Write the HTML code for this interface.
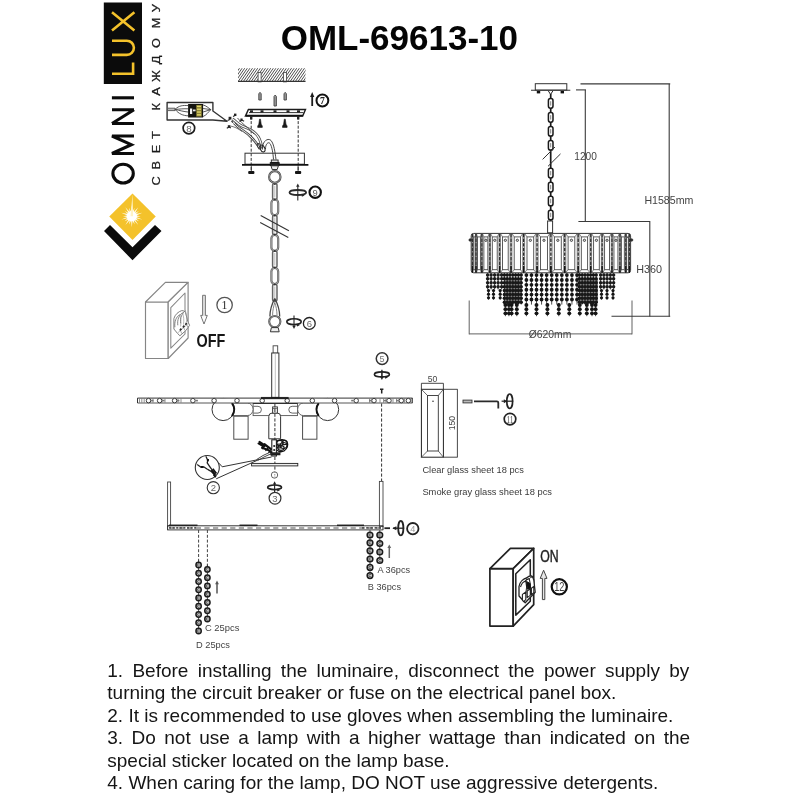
<!DOCTYPE html>
<html><head><meta charset="utf-8">
<style>
html,body{margin:0;padding:0;background:#fff;}
body{width:800px;height:800px;position:relative;overflow:hidden;font-family:"Liberation Sans",sans-serif;color:#000;}
#title{position:absolute;left:280.7px;top:17.6px;font-weight:bold;font-size:35px;line-height:40px;white-space:nowrap;color:#050505;}
#instr{position:absolute;left:107.3px;top:659.5px;width:600px;font-size:19px;line-height:22.6px;color:#151515;}
#instr div{white-space:nowrap;height:22.6px;}
svg{position:absolute;left:0;top:0;filter:blur(0.4px);}
#title,#instr{filter:blur(0.35px);}
svg text{font-family:"Liberation Sans",sans-serif;}
</style></head><body>
<div id="title">OML-69613-10</div>
<div id="instr">
<div style="word-spacing:3.99px">1. Before installing the luminaire, disconnect the power supply by</div>
<div>turning the circuit breaker or fuse on the electrical panel box.</div>
<div>2. It is recommended to use gloves when assembling the luminaire.</div>
<div style="word-spacing:3.15px">3. Do not use a lamp with a higher wattage than indicated on the</div>
<div>special sticker located on the lamp base.</div>
<div>4. When caring for the lamp, DO NOT use aggressive detergents.</div>
</div>
<svg width="800" height="800" viewBox="0 0 800 800" fill="none" stroke-linecap="butt">
<g id="logo">
<rect x="103.80" y="2.50" width="38.20" height="81.50" fill="#0b0b0b" stroke="none" stroke-width="0" />
<path d="M112,73.7 H133.1 V62.5" fill="none" stroke="#f4c22b" stroke-width="2.6" stroke-linejoin="miter"/>
<path d="M112,54.9 H126.8 A7.1,7.1 0 0 0 126.8,40.7 H112" fill="none" stroke="#f4c22b" stroke-width="2.6" />
<path d="M112,30.4 L134.4,12.2 M112,12.2 L134.4,30.4" fill="none" stroke="#f4c22b" stroke-width="2.6" />
<line x1="111.90" y1="97.80" x2="134.00" y2="97.80" stroke="#0b0b0b" stroke-width="3.1" />
<path d="M112,123.5 H134 M112,123.5 L134,109.7 M112,109.7 H134" fill="none" stroke="#0b0b0b" stroke-width="3.1" stroke-linejoin="bevel"/>
<path d="M134,153.5 H112 L131.3,144.7 L112,136 H134" fill="none" stroke="#0b0b0b" stroke-width="3.1" stroke-linejoin="miter"/>
<ellipse cx="123.10" cy="173.60" rx="10.20" ry="9.40" fill="none" stroke="#0b0b0b" stroke-width="3.1" />
<polygon points="132.50,193.50 155.75,216.50 132.50,240.00 109.25,216.50" fill="#f4c22b" stroke="none" stroke-width="0" />
<polygon points="131.80,205.20 132.52,211.66 134.52,207.83 133.89,212.10 138.27,207.30 135.05,212.95 138.92,211.03 135.90,214.11 142.26,212.80 136.34,215.48 140.60,216.20 136.34,216.92 142.26,219.60 135.90,218.29 138.92,221.37 135.05,219.45 138.27,225.10 133.89,220.30 134.52,224.57 132.52,220.74 131.80,227.20 131.08,220.74 129.08,224.57 129.71,220.30 125.33,225.10 128.55,219.45 124.68,221.37 127.70,218.29 121.34,219.60 127.26,216.92 123.00,216.20 127.26,215.48 121.34,212.80 127.70,214.11 124.68,211.03 128.55,212.95 125.33,207.30 129.71,212.10 129.08,207.83 131.08,211.66" fill="#fffbe8" stroke="none" stroke-width="0" />
<circle cx="131.80" cy="216.20" r="5.00" fill="#fff" stroke="none" stroke-width="0" />
<polygon points="130.50,216.20 132.50,194.20 133.10,216.20" fill="#fff3c4" stroke="none" stroke-width="0" />
<polygon points="104.00,231.00 110.00,225.00 132.50,247.30 155.00,225.00 161.50,231.00 132.50,260.20" fill="#0b0b0b" stroke="none" stroke-width="0" />
<text transform="translate(160.1,181) rotate(-90) scale(1.13,1)" font-size="11.3" fill="#1a1a1a" stroke="#1a1a1a" stroke-width="0.25" text-anchor="middle">С</text>
<text transform="translate(160.1,165.3) rotate(-90) scale(1.13,1)" font-size="11.3" fill="#1a1a1a" stroke="#1a1a1a" stroke-width="0.25" text-anchor="middle">В</text>
<text transform="translate(160.1,149) rotate(-90) scale(1.13,1)" font-size="11.3" fill="#1a1a1a" stroke="#1a1a1a" stroke-width="0.25" text-anchor="middle">Е</text>
<text transform="translate(160.1,135) rotate(-90) scale(1.13,1)" font-size="11.3" fill="#1a1a1a" stroke="#1a1a1a" stroke-width="0.25" text-anchor="middle">Т</text>
<text transform="translate(160.1,106.8) rotate(-90) scale(1.13,1)" font-size="11.3" fill="#1a1a1a" stroke="#1a1a1a" stroke-width="0.25" text-anchor="middle">К</text>
<text transform="translate(160.1,91.5) rotate(-90) scale(1.13,1)" font-size="11.3" fill="#1a1a1a" stroke="#1a1a1a" stroke-width="0.25" text-anchor="middle">А</text>
<text transform="translate(160.1,76) rotate(-90) scale(1.13,1)" font-size="11.3" fill="#1a1a1a" stroke="#1a1a1a" stroke-width="0.25" text-anchor="middle">Ж</text>
<text transform="translate(160.1,60) rotate(-90) scale(1.13,1)" font-size="11.3" fill="#1a1a1a" stroke="#1a1a1a" stroke-width="0.25" text-anchor="middle">Д</text>
<text transform="translate(160.1,43) rotate(-90) scale(1.13,1)" font-size="11.3" fill="#1a1a1a" stroke="#1a1a1a" stroke-width="0.25" text-anchor="middle">О</text>
<text transform="translate(160.1,23) rotate(-90) scale(1.13,1)" font-size="11.3" fill="#1a1a1a" stroke="#1a1a1a" stroke-width="0.25" text-anchor="middle">М</text>
<text transform="translate(160.1,8.2) rotate(-90) scale(1.13,1)" font-size="11.3" fill="#1a1a1a" stroke="#1a1a1a" stroke-width="0.25" text-anchor="middle">У</text>
</g>
<g id="mount">
<defs><clipPath id="hc"><rect x="238" y="68.2" width="67.5" height="13.1"/></clipPath></defs>
<g clip-path="url(#hc)">
<line x1="230.00" y1="82.00" x2="240.00" y2="67.50" stroke="#2e2e2e" stroke-width="0.85" />
<line x1="232.60" y1="82.00" x2="242.60" y2="67.50" stroke="#2e2e2e" stroke-width="0.85" />
<line x1="235.20" y1="82.00" x2="245.20" y2="67.50" stroke="#2e2e2e" stroke-width="0.85" />
<line x1="237.80" y1="82.00" x2="247.80" y2="67.50" stroke="#2e2e2e" stroke-width="0.85" />
<line x1="240.40" y1="82.00" x2="250.40" y2="67.50" stroke="#2e2e2e" stroke-width="0.85" />
<line x1="243.00" y1="82.00" x2="253.00" y2="67.50" stroke="#2e2e2e" stroke-width="0.85" />
<line x1="245.60" y1="82.00" x2="255.60" y2="67.50" stroke="#2e2e2e" stroke-width="0.85" />
<line x1="248.20" y1="82.00" x2="258.20" y2="67.50" stroke="#2e2e2e" stroke-width="0.85" />
<line x1="250.80" y1="82.00" x2="260.80" y2="67.50" stroke="#2e2e2e" stroke-width="0.85" />
<line x1="253.40" y1="82.00" x2="263.40" y2="67.50" stroke="#2e2e2e" stroke-width="0.85" />
<line x1="256.00" y1="82.00" x2="266.00" y2="67.50" stroke="#2e2e2e" stroke-width="0.85" />
<line x1="258.60" y1="82.00" x2="268.60" y2="67.50" stroke="#2e2e2e" stroke-width="0.85" />
<line x1="261.20" y1="82.00" x2="271.20" y2="67.50" stroke="#2e2e2e" stroke-width="0.85" />
<line x1="263.80" y1="82.00" x2="273.80" y2="67.50" stroke="#2e2e2e" stroke-width="0.85" />
<line x1="266.40" y1="82.00" x2="276.40" y2="67.50" stroke="#2e2e2e" stroke-width="0.85" />
<line x1="269.00" y1="82.00" x2="279.00" y2="67.50" stroke="#2e2e2e" stroke-width="0.85" />
<line x1="271.60" y1="82.00" x2="281.60" y2="67.50" stroke="#2e2e2e" stroke-width="0.85" />
<line x1="274.20" y1="82.00" x2="284.20" y2="67.50" stroke="#2e2e2e" stroke-width="0.85" />
<line x1="276.80" y1="82.00" x2="286.80" y2="67.50" stroke="#2e2e2e" stroke-width="0.85" />
<line x1="279.40" y1="82.00" x2="289.40" y2="67.50" stroke="#2e2e2e" stroke-width="0.85" />
<line x1="282.00" y1="82.00" x2="292.00" y2="67.50" stroke="#2e2e2e" stroke-width="0.85" />
<line x1="284.60" y1="82.00" x2="294.60" y2="67.50" stroke="#2e2e2e" stroke-width="0.85" />
<line x1="287.20" y1="82.00" x2="297.20" y2="67.50" stroke="#2e2e2e" stroke-width="0.85" />
<line x1="289.80" y1="82.00" x2="299.80" y2="67.50" stroke="#2e2e2e" stroke-width="0.85" />
<line x1="292.40" y1="82.00" x2="302.40" y2="67.50" stroke="#2e2e2e" stroke-width="0.85" />
<line x1="295.00" y1="82.00" x2="305.00" y2="67.50" stroke="#2e2e2e" stroke-width="0.85" />
<line x1="297.60" y1="82.00" x2="307.60" y2="67.50" stroke="#2e2e2e" stroke-width="0.85" />
<line x1="300.20" y1="82.00" x2="310.20" y2="67.50" stroke="#2e2e2e" stroke-width="0.85" />
<line x1="302.80" y1="82.00" x2="312.80" y2="67.50" stroke="#2e2e2e" stroke-width="0.85" />
<line x1="305.40" y1="82.00" x2="315.40" y2="67.50" stroke="#2e2e2e" stroke-width="0.85" />
<line x1="308.00" y1="82.00" x2="318.00" y2="67.50" stroke="#2e2e2e" stroke-width="0.85" />
<line x1="310.60" y1="82.00" x2="320.60" y2="67.50" stroke="#2e2e2e" stroke-width="0.85" />
<line x1="313.20" y1="82.00" x2="323.20" y2="67.50" stroke="#2e2e2e" stroke-width="0.85" />
<line x1="315.80" y1="82.00" x2="325.80" y2="67.50" stroke="#2e2e2e" stroke-width="0.85" />
<line x1="318.40" y1="82.00" x2="328.40" y2="67.50" stroke="#2e2e2e" stroke-width="0.85" />
</g>
<rect x="258.10" y="72.40" width="3.00" height="9.50" fill="#fff" stroke="#444" stroke-width="0.8" />
<rect x="283.40" y="72.40" width="3.00" height="9.50" fill="#fff" stroke="#444" stroke-width="0.8" />
<line x1="238.00" y1="81.40" x2="305.50" y2="81.40" stroke="#333" stroke-width="1.1" />
<path d="M258.8,100 V93.8 L260,92.3 L261.2,93.8 V100 Z" fill="#999" stroke="#444" stroke-width="0.9" />
<path d="M274.0,106 V96.5 L275.2,95 L276.4,96.5 V106 Z" fill="#999" stroke="#444" stroke-width="0.9" />
<path d="M284.0,100 V93.8 L285.2,92.3 L286.4,93.8 V100 Z" fill="#999" stroke="#444" stroke-width="0.9" />
<line x1="312.20" y1="106.00" x2="312.20" y2="95.00" stroke="#1c1c1c" stroke-width="1.8" />
<polygon points="312.20,92.00 310.10,97.00 314.30,97.00" fill="#1c1c1c" stroke="none" stroke-width="0" />
<circle cx="322.40" cy="100.50" r="5.90" fill="#fff" stroke="#111" stroke-width="2.0" />
<text x="322.5" y="103.8" font-size="9.6" font-weight="bold" fill="#222" text-anchor="middle" style="font-family:'Liberation Serif',serif">7</text>
<polygon points="248.40,109.50 305.50,109.50 302.70,116.10 245.40,116.10" fill="#fff" stroke="#1c1c1c" stroke-width="1.4" />
<line x1="249.00" y1="112.60" x2="303.50" y2="112.60" stroke="#333" stroke-width="1" />
<rect x="250.00" y="110.30" width="3.00" height="2.20" fill="#222" stroke="none" stroke-width="0" />
<rect x="260.50" y="110.30" width="3.00" height="2.20" fill="#222" stroke="none" stroke-width="0" />
<rect x="273.50" y="110.30" width="3.00" height="2.20" fill="#222" stroke="none" stroke-width="0" />
<rect x="286.50" y="110.30" width="3.00" height="2.20" fill="#222" stroke="none" stroke-width="0" />
<rect x="297.00" y="110.30" width="3.00" height="2.20" fill="#222" stroke="none" stroke-width="0" />
<line x1="246.00" y1="115.60" x2="302.90" y2="115.60" stroke="#111" stroke-width="1.6" />
<path d="M259.5,119.2 H260.5 L261.2,124.2 L262.3,126 V127.4 H257.7 V126 L258.8,124.2 Z" fill="#1a1a1a" stroke="#1a1a1a" stroke-width="0.6" />
<path d="M284.3,119.2 H285.3 L286.0,124.2 L287.1,126 V127.4 H282.5 V126 L283.6,124.2 Z" fill="#1a1a1a" stroke="#1a1a1a" stroke-width="0.6" />
<line x1="251.20" y1="116.50" x2="251.20" y2="171.00" stroke="#333" stroke-width="1" stroke-dasharray="3 1.6"/>
<line x1="298.20" y1="116.50" x2="298.20" y2="171.00" stroke="#333" stroke-width="1" stroke-dasharray="3 1.6"/>
<rect x="250.00" y="116.50" width="2.40" height="3.00" fill="#222" stroke="none" stroke-width="0" />
<rect x="297.00" y="116.50" width="2.40" height="3.00" fill="#222" stroke="none" stroke-width="0" />
<rect x="245.00" y="153.20" width="59.40" height="11.00" fill="none" stroke="#333" stroke-width="1" />
<line x1="242.00" y1="164.90" x2="308.40" y2="164.90" stroke="#111" stroke-width="1.6" />
<line x1="251.30" y1="165.50" x2="251.30" y2="171.00" stroke="#333" stroke-width="0.9" />
<rect x="248.20" y="171.10" width="6.20" height="2.80" fill="#151515" stroke="none" stroke-width="0" rx="0.9"/>
<line x1="298.10" y1="165.50" x2="298.10" y2="171.00" stroke="#333" stroke-width="0.9" />
<rect x="295.00" y="171.10" width="6.20" height="2.80" fill="#151515" stroke="none" stroke-width="0" rx="0.9"/>
<path d="M232.5,119 C236,121.5 238,124 241,125.5 C245,127.5 248,128 251,130 C255,132.5 258,135.5 259.5,139 C261,142.5 261.5,145.5 262,148" fill="none" stroke="#4a4a4a" stroke-width="2.8" />
<path d="M232.5,119 C236,121.5 238,124 241,125.5 C245,127.5 248,128 251,130 C255,132.5 258,135.5 259.5,139 C261,142.5 261.5,145.5 262,148" fill="none" stroke="#fff" stroke-width="1.0999999999999999" />
<path d="M234,123 C237,126.5 240,128.5 243,130.5 C246,132.5 248.5,134.5 251,137 C254,140 256.5,143 258,145.5 C259,147 259.5,148 260,149" fill="none" stroke="#4a4a4a" stroke-width="2.6" />
<path d="M234,123 C237,126.5 240,128.5 243,130.5 C246,132.5 248.5,134.5 251,137 C254,140 256.5,143 258,145.5 C259,147 259.5,148 260,149" fill="none" stroke="#fff" stroke-width="0.9000000000000001" />
<path d="M237.5,118 C240,121 243,124 246,126.5 C249,129 252,131 254,134" fill="none" stroke="#444" stroke-width="0.9" />
<path d="M230,126 C234,126.5 238,128.5 242,131.5" fill="none" stroke="#555" stroke-width="0.8" />
<path d="M262.5,149.5 C262,141 268,137.5 271,140.5 C274,144 275,152 276,159.5" fill="none" stroke="#333" stroke-width="0.9" />
<path d="M265.5,149 C265.5,143.5 268.5,141.5 270,143.5 C272,146.5 273,153 273.5,159.5" fill="none" stroke="#333" stroke-width="0.9" />
<ellipse cx="262.50" cy="148.50" rx="2.20" ry="3.60" fill="none" stroke="#222" stroke-width="1.1" transform="rotate(-25 262.5 148.5)"/>
<ellipse cx="259.20" cy="146.20" rx="1.60" ry="3.00" fill="none" stroke="#333" stroke-width="0.9" transform="rotate(-25 259.2 146.2)"/>
<rect x="228.60" y="116.80" width="2.80" height="2.80" fill="#222" stroke="none" stroke-width="0" />
<rect x="234.00" y="113.60" width="2.40" height="2.40" fill="#222" stroke="none" stroke-width="0" />
<rect x="227.80" y="125.20" width="2.40" height="2.40" fill="#222" stroke="none" stroke-width="0" />
<rect x="240.40" y="118.50" width="2.20" height="2.20" fill="#222" stroke="none" stroke-width="0" />
<path d="M227.5,120.5 l2.5,-1 M233,116.5 l2.5,-1.2 M226.8,128.2 l2.4,-1.2 l1.6,1 M239.5,121.5 l2.4,-1.4 l2.2,1.2 M231.5,121 l1.5,1.6" fill="none" stroke="#222" stroke-width="1.1" />
<path d="M167.1,102.5 H212.9 V111 L227,121.3 L212.9,120 H167.1 Z" fill="none" stroke="#333" stroke-width="1.4" stroke-linejoin="round"/>
<path d="M168,108.2 H175 V110.6 H168" fill="#bbb" stroke="#555" stroke-width="0.9" />
<path d="M175,109.4 C179,105.5 183,105.2 188,105.6 M175,109.4 C180,109 184,108.6 188,108.8 M175,109.4 C180,110.6 184,111.6 188,112 M175,109.4 C179,114 183,115.6 188,115.8" fill="none" stroke="#444" stroke-width="0.9" />
<rect x="188.10" y="104.00" width="15.00" height="13.50" fill="#141410" stroke="none" stroke-width="0" />
<rect x="190.00" y="108.50" width="2.20" height="5.50" fill="#f2f2f2" stroke="none" stroke-width="0" />
<rect x="193.00" y="109.50" width="2.60" height="1.80" fill="#e8e8e8" stroke="none" stroke-width="0" />
<rect x="196.20" y="105.00" width="5.60" height="11.60" fill="#8a8235" stroke="none" stroke-width="0" />
<rect x="197.00" y="105.80" width="4.00" height="1.30" fill="#e3d66a" stroke="none" stroke-width="0" />
<rect x="197.00" y="108.60" width="4.00" height="1.30" fill="#e3d66a" stroke="none" stroke-width="0" />
<rect x="197.00" y="111.40" width="4.00" height="1.30" fill="#e3d66a" stroke="none" stroke-width="0" />
<rect x="197.00" y="114.20" width="4.00" height="1.30" fill="#e3d66a" stroke="none" stroke-width="0" />
<path d="M203.1,105 C206,105.5 208.5,108 210.8,109.6 M203.1,108.5 L210.8,109.6 M203.1,112 L210.8,109.6 M203.1,116.5 C206,115.5 208.5,112 210.8,109.6" fill="none" stroke="#444" stroke-width="0.9" />
<circle cx="188.90" cy="128.10" r="5.80" fill="#fff" stroke="#1c1c1c" stroke-width="1.7" />
<text x="188.90" y="131.60" font-size="9.8" fill="#666" text-anchor="middle" >8</text>
<rect x="271.30" y="160.00" width="6.80" height="2.60" fill="#ddd" stroke="#222" stroke-width="0.9" />
<rect x="270.20" y="162.60" width="9.00" height="2.80" fill="#222" stroke="#111" stroke-width="0.8" />
<path d="M271,165.8 H278.4 L277.2,169.5 H272.2 Z" fill="#eee" stroke="#222" stroke-width="0.9" />
</g>
<g id="chain">
<rect x="272.60" y="183.30" width="4.40" height="16.70" fill="#fff" stroke="#666" stroke-width="1.5" rx="2.2"/>
<line x1="274.80" y1="185.80" x2="274.80" y2="197.50" stroke="#aaa" stroke-width="0.8" />
<rect x="272.60" y="215.00" width="4.40" height="20.00" fill="#fff" stroke="#666" stroke-width="1.5" rx="2.2"/>
<line x1="274.80" y1="217.50" x2="274.80" y2="232.50" stroke="#aaa" stroke-width="0.8" />
<rect x="272.60" y="250.50" width="4.40" height="17.50" fill="#fff" stroke="#666" stroke-width="1.5" rx="2.2"/>
<line x1="274.80" y1="253.00" x2="274.80" y2="265.50" stroke="#aaa" stroke-width="0.8" />
<rect x="272.60" y="284.00" width="4.40" height="17.50" fill="#fff" stroke="#666" stroke-width="1.5" rx="2.2"/>
<line x1="274.80" y1="286.50" x2="274.80" y2="299.00" stroke="#aaa" stroke-width="0.8" />
<rect x="271.40" y="199.50" width="6.80" height="15.70" fill="#fff" stroke="#5a5a5a" stroke-width="2.1" rx="3.4"/>
<rect x="271.40" y="199.50" width="6.80" height="15.70" fill="none" stroke="#bbb" stroke-width="0.7" rx="3.4"/>
<rect x="271.40" y="235.00" width="6.80" height="15.80" fill="#fff" stroke="#5a5a5a" stroke-width="2.1" rx="3.4"/>
<rect x="271.40" y="235.00" width="6.80" height="15.80" fill="none" stroke="#bbb" stroke-width="0.7" rx="3.4"/>
<rect x="271.40" y="268.00" width="6.80" height="16.00" fill="#fff" stroke="#5a5a5a" stroke-width="2.1" rx="3.4"/>
<rect x="271.40" y="268.00" width="6.80" height="16.00" fill="none" stroke="#bbb" stroke-width="0.7" rx="3.4"/>
<circle cx="274.80" cy="184.00" r="1.10" fill="#333" stroke="none" stroke-width="0" />
<circle cx="274.80" cy="199.50" r="1.10" fill="#333" stroke="none" stroke-width="0" />
<circle cx="274.80" cy="215.50" r="1.10" fill="#333" stroke="none" stroke-width="0" />
<circle cx="274.80" cy="234.50" r="1.10" fill="#333" stroke="none" stroke-width="0" />
<circle cx="274.80" cy="251.00" r="1.10" fill="#333" stroke="none" stroke-width="0" />
<circle cx="274.80" cy="267.50" r="1.10" fill="#333" stroke="none" stroke-width="0" />
<circle cx="274.80" cy="284.50" r="1.10" fill="#333" stroke="none" stroke-width="0" />
<circle cx="274.80" cy="300.00" r="1.10" fill="#333" stroke="none" stroke-width="0" />
<line x1="260.70" y1="215.60" x2="288.90" y2="230.80" stroke="#333" stroke-width="1.1" />
<line x1="260.20" y1="222.40" x2="288.30" y2="237.50" stroke="#333" stroke-width="1.1" />
<path d="M274.8,298.5 C272.40000000000003,303 269.90000000000003,311 269.90000000000003,316.5 M274.8,298.5 C277.2,303 279.7,311 279.7,316.5" fill="none" stroke="#444" stroke-width="1.3" />
<path d="M274.8,302.5 C273.6,306 272.6,311 272.6,315 M274.8,302.5 C276.0,306 277.0,311 277.0,315" fill="none" stroke="#666" stroke-width="0.8" />
<ellipse cx="274.80" cy="321.60" rx="5.60" ry="5.70" fill="#fff" stroke="#4a4a4a" stroke-width="2.0" />
<ellipse cx="274.80" cy="321.60" rx="5.60" ry="5.70" fill="none" stroke="#bbb" stroke-width="0.6" />
<path d="M271.40000000000003,327.6 H278.2 L279.2,331.8 H270.40000000000003 Z" fill="#eee" stroke="#333" stroke-width="1" />
<ellipse cx="274.80" cy="176.90" rx="5.70" ry="5.80" fill="#fff" stroke="#4a4a4a" stroke-width="2.1" />
<ellipse cx="274.80" cy="176.90" rx="5.70" ry="5.80" fill="none" stroke="#bbb" stroke-width="0.6" />
<ellipse cx="297.80" cy="192.50" rx="8.30" ry="2.50" fill="none" stroke="#2a2a2a" stroke-width="1.8" />
<line x1="297.80" y1="200.50" x2="297.80" y2="186.00" stroke="#2a2a2a" stroke-width="1.1" />
<polygon points="297.80,183.50 296.10,186.70 299.50,186.70" fill="#2a2a2a" stroke="none" stroke-width="0" />
<polygon points="304.60,195.60 301.60,193.80 301.90,196.80" fill="#2a2a2a" stroke="none" stroke-width="0" />
<circle cx="315.20" cy="192.20" r="5.70" fill="#fff" stroke="#111" stroke-width="2.1" />
<text x="315.20" y="195.58" font-size="9.4" fill="#5a5a5a" text-anchor="middle" >9</text>
<ellipse cx="294.00" cy="321.70" rx="7.20" ry="2.90" fill="none" stroke="#222" stroke-width="1.6" />
<line x1="294.00" y1="315.40" x2="294.00" y2="326.50" stroke="#222" stroke-width="1.1" />
<polygon points="294.00,329.00 292.30,325.80 295.70,325.80" fill="#222" stroke="none" stroke-width="0" />
<polygon points="299.70,325.20 296.70,323.40 297.00,326.40" fill="#222" stroke="none" stroke-width="0" />
<circle cx="309.30" cy="323.40" r="5.90" fill="#fff" stroke="#222" stroke-width="1.3" />
<text x="309.30" y="326.82" font-size="9.5" fill="#666" text-anchor="middle" >6</text>
</g>
<g id="off">
<polygon points="145.50,302.00 168.20,302.00 168.20,358.50 145.50,358.50" fill="#fff" stroke="#858585" stroke-width="1.15" stroke-linejoin="round"/>
<polygon points="145.50,302.00 165.40,282.30 188.10,282.30 168.20,302.00" fill="#fff" stroke="#858585" stroke-width="1.15" stroke-linejoin="round"/>
<polygon points="168.20,302.00 188.10,282.30 188.10,338.00 168.20,358.50" fill="#fff" stroke="#858585" stroke-width="1.15" stroke-linejoin="round"/>
<polygon points="170.80,307.60 185.00,293.00 185.00,334.00 170.80,348.10" fill="none" stroke="#858585" stroke-width="1.035" stroke-linejoin="round"/>
<path d="M173.9,318.5 C175,314.5 178.5,311.5 181.8,310.6 C183.5,310.6 184.8,311.4 185.5,312.5 L187.75,321.5 L189.6,325.25 L185.9,330.5 L179.9,335.75 L177.6,333.5 L173.9,329 Z" fill="#fff" stroke="#777" stroke-width="0.95" stroke-linejoin="round"/>
<path d="M174.9,327.2 C174.2,321.5 176.2,317.0 179.6,314.6" fill="none" stroke="#777" stroke-width="0.9" />
<path d="M179.6,314.6 C180.8,318.0 181.2,322.0 180.6,326.5" fill="none" stroke="#999" stroke-width="0.7" />
<path d="M177.8,325.3 C177.1,319.6 179.1,315.1 182.5,312.70000000000005" fill="none" stroke="#777" stroke-width="0.9" />
<path d="M182.5,312.70000000000005 C183.70000000000002,316.1 184.1,320.1 183.5,324.6" fill="none" stroke="#999" stroke-width="0.7" />
<path d="M180.70000000000002,323.4 C180.0,317.7 182.0,313.2 185.4,310.8" fill="none" stroke="#777" stroke-width="0.9" />
<path d="M185.4,310.8 C186.60000000000002,314.2 187.0,318.2 186.4,322.7" fill="none" stroke="#999" stroke-width="0.7" />
<path d="M177.8,332.8 L188.6,323.2" fill="none" stroke="#999" stroke-width="0.7" />
<path d="M179.9,330.5 L181.4,328.6 M182.9,327.5 L184.4,325.6 M185.5,324.9 L186.6,323" fill="none" stroke="#2a2a2a" stroke-width="1.7" />
<path d="M181.8,333.6 L180.6,330.8 M185,330.6 L183.8,327.8 M187.8,327.4 L186.8,324.8" fill="none" stroke="#888" stroke-width="0.7" />
<path d="M202.6,295.3 H205.4 V315.4 H207.3 L204,324 L200.7,315.4 H202.6 Z" fill="#e2e2e2" stroke="#707070" stroke-width="0.95" />
<polygon points="201.80,316.20 206.20,316.20 204.00,322.00" fill="#fff" stroke="none" stroke-width="0" />
<circle cx="224.60" cy="305.00" r="7.70" fill="#fff" stroke="#555" stroke-width="1.3" />
<text x="224.5" y="308.9" font-size="11.8" fill="#2a2a2a" text-anchor="middle" style="font-family:'Liberation Serif',serif">1</text>
<text x="196.6" y="346.6" font-size="17.6" fill="#161616" textLength="28.8" lengthAdjust="spacingAndGlyphs" font-weight="bold">OFF</text>
</g>
<g id="on">
<polygon points="489.90,568.70 513.20,568.70 513.20,626.10 489.90,626.10" fill="#fff" stroke="#222" stroke-width="1.7" stroke-linejoin="round"/>
<polygon points="489.90,568.70 510.40,548.40 533.70,548.40 513.20,568.70" fill="#fff" stroke="#222" stroke-width="1.7" stroke-linejoin="round"/>
<polygon points="513.20,568.70 533.70,548.40 533.70,604.70 513.20,626.10" fill="#fff" stroke="#222" stroke-width="1.7" stroke-linejoin="round"/>
<polygon points="515.80,573.75 530.30,559.70 530.30,601.30 515.80,615.10" fill="none" stroke="#222" stroke-width="1.53" stroke-linejoin="round"/>
<path d="M519,586.5 C520,581 524,578.5 526.5,578 C528,576.5 530,575.8 531.3,575.8 C532.6,576.2 533.4,578 533.8,580 L535.2,592.2 L525.2,602.8 L519,596 Z" fill="#fff" stroke="#222" stroke-width="1.3" stroke-linejoin="round"/>
<path d="M520.5,587 C521.5,583.5 523.5,581.5 525.8,581 C526.8,584.5 526.8,588.5 526,592.5" fill="none" stroke="#222" stroke-width="1.1" />
<path d="M524.5,582 C525.8,580 527.5,578.8 529.2,578.6 C530.2,581.6 530.6,585.6 530.2,589.5" fill="none" stroke="#222" stroke-width="1.1" />
<path d="M529.5,578.4 C530.6,577.4 531.6,577 532.4,577.4" fill="none" stroke="#222" stroke-width="1.0" />
<path d="M526.6,581.5 L530,583.5 L530.4,588.4 L527.4,589.2 Z" fill="#111" stroke="#111" stroke-width="1" />
<path d="M522.4,594.4 L525.8,592 V599.6 L523.6,601.6 L522.4,600 Z M527.2,591 L530.3,588.8 V595.4 L527.2,597.6 Z M531.4,588.2 L533.8,586.4 V592.6 L531.4,594.6 Z" fill="#fff" stroke="#222" stroke-width="1.1" stroke-linejoin="round"/>
<path d="M542.4,599.6 H544.8 V578.4 H547 L543.6,570.2 L540.2,578.4 H542.4 Z" fill="#e6e6e6" stroke="#444" stroke-width="1.0" />
<circle cx="559.30" cy="586.80" r="7.60" fill="#fff" stroke="#111" stroke-width="2.2" />
<text x="559.3" y="591.2" font-size="12.4" fill="#3a3a3a" text-anchor="middle" textLength="10.2" lengthAdjust="spacingAndGlyphs">12</text>
<text x="540.2" y="562.4" font-size="16.9" fill="#222" stroke="#222" stroke-width="0.45" textLength="18.4" lengthAdjust="spacingAndGlyphs">ON</text>
</g>
<g id="frame">
<rect x="273.10" y="345.80" width="4.60" height="7.40" fill="#fff" stroke="#444" stroke-width="0.9" />
<rect x="271.70" y="353.00" width="7.20" height="44.40" fill="#fff" stroke="#333" stroke-width="1" />
<line x1="275.30" y1="353.50" x2="275.30" y2="397.00" stroke="#999" stroke-width="0.6" />
<rect x="253.10" y="403.20" width="44.40" height="12.40" fill="#fff" stroke="#555" stroke-width="0.9" />
<line x1="253.10" y1="403.30" x2="297.50" y2="403.30" stroke="#222" stroke-width="1.3" />
<path d="M253.4,406.3 H258 A3.4,3.4 0 0 1 258,413.1 H253.4" fill="none" stroke="#555" stroke-width="0.9" />
<path d="M297.2,406.3 H292.2 A3.4,3.4 0 0 0 292.2,413.1 H297.2" fill="none" stroke="#555" stroke-width="0.9" />
<path d="M223.1,403 H247.3 A5.8,6.3 0 0 1 247.3,415.6 H223.1" fill="#fff" stroke="#555" stroke-width="0.9" />
<circle cx="223.10" cy="409.50" r="11.10" fill="#fff" stroke="#333" stroke-width="1.0" />
<path d="M232.0,403.2 A11.1,11.1 0 0 1 232.0,416" fill="none" stroke="#111" stroke-width="2" />
<path d="M327.6,403 H303.4 A5.8,6.3 0 0 0 303.4,415.6 H327.6" fill="#fff" stroke="#555" stroke-width="0.9" />
<circle cx="327.60" cy="409.50" r="11.10" fill="#fff" stroke="#333" stroke-width="1.0" />
<path d="M318.70000000000005,403.2 A11.1,11.1 0 0 0 318.70000000000005,416" fill="none" stroke="#111" stroke-width="2" />
<rect x="233.80" y="416.20" width="14.30" height="23.00" fill="#fff" stroke="#444" stroke-width="0.95" />
<rect x="302.60" y="416.20" width="14.30" height="23.00" fill="#fff" stroke="#444" stroke-width="0.95" />
<rect x="137.50" y="398.10" width="275.00" height="4.90" fill="#fff" stroke="none" stroke-width="0" />
<line x1="137.50" y1="398.10" x2="412.50" y2="398.10" stroke="#333" stroke-width="1.0" />
<line x1="137.50" y1="403.00" x2="412.50" y2="403.00" stroke="#444" stroke-width="0.9" />
<line x1="137.50" y1="398.10" x2="137.50" y2="403.00" stroke="#333" stroke-width="1" />
<line x1="412.20" y1="398.10" x2="412.20" y2="403.00" stroke="#333" stroke-width="1.2" />
<line x1="139.50" y1="398.50" x2="139.50" y2="402.70" stroke="#777" stroke-width="0.8" />
<line x1="141.80" y1="398.50" x2="141.80" y2="402.70" stroke="#777" stroke-width="0.8" />
<line x1="144.20" y1="398.50" x2="144.20" y2="402.70" stroke="#777" stroke-width="0.8" />
<line x1="150.50" y1="398.50" x2="150.50" y2="402.70" stroke="#777" stroke-width="0.8" />
<line x1="153.00" y1="398.50" x2="153.00" y2="402.70" stroke="#777" stroke-width="0.8" />
<line x1="162.00" y1="398.50" x2="162.00" y2="402.70" stroke="#777" stroke-width="0.8" />
<line x1="165.00" y1="398.50" x2="165.00" y2="402.70" stroke="#777" stroke-width="0.8" />
<line x1="178.00" y1="398.50" x2="178.00" y2="402.70" stroke="#777" stroke-width="0.8" />
<line x1="181.00" y1="398.50" x2="181.00" y2="402.70" stroke="#777" stroke-width="0.8" />
<line x1="410.00" y1="398.50" x2="410.00" y2="402.70" stroke="#777" stroke-width="0.8" />
<line x1="407.30" y1="398.50" x2="407.30" y2="402.70" stroke="#777" stroke-width="0.8" />
<line x1="404.50" y1="398.50" x2="404.50" y2="402.70" stroke="#777" stroke-width="0.8" />
<line x1="399.00" y1="398.50" x2="399.00" y2="402.70" stroke="#777" stroke-width="0.8" />
<line x1="396.50" y1="398.50" x2="396.50" y2="402.70" stroke="#777" stroke-width="0.8" />
<line x1="393.00" y1="398.50" x2="393.00" y2="402.70" stroke="#777" stroke-width="0.8" />
<line x1="386.00" y1="398.50" x2="386.00" y2="402.70" stroke="#777" stroke-width="0.8" />
<line x1="383.50" y1="398.50" x2="383.50" y2="402.70" stroke="#777" stroke-width="0.8" />
<line x1="380.00" y1="398.50" x2="380.00" y2="402.70" stroke="#777" stroke-width="0.8" />
<line x1="372.00" y1="398.50" x2="372.00" y2="402.70" stroke="#777" stroke-width="0.8" />
<line x1="369.50" y1="398.50" x2="369.50" y2="402.70" stroke="#777" stroke-width="0.8" />
<circle cx="148.50" cy="400.60" r="2.25" fill="#fff" stroke="#333" stroke-width="0.95" />
<circle cx="159.60" cy="400.60" r="2.25" fill="#fff" stroke="#333" stroke-width="0.95" />
<circle cx="174.60" cy="400.60" r="2.25" fill="#fff" stroke="#333" stroke-width="0.95" />
<circle cx="192.90" cy="400.60" r="2.25" fill="#fff" stroke="#333" stroke-width="0.95" />
<circle cx="214.10" cy="400.60" r="2.25" fill="#fff" stroke="#333" stroke-width="0.95" />
<circle cx="237.00" cy="400.60" r="2.25" fill="#fff" stroke="#333" stroke-width="0.95" />
<circle cx="262.20" cy="400.60" r="2.25" fill="#fff" stroke="#333" stroke-width="0.95" />
<circle cx="287.20" cy="400.60" r="2.25" fill="#fff" stroke="#333" stroke-width="0.95" />
<circle cx="312.30" cy="400.60" r="2.25" fill="#fff" stroke="#333" stroke-width="0.95" />
<circle cx="334.60" cy="400.60" r="2.25" fill="#fff" stroke="#333" stroke-width="0.95" />
<circle cx="356.20" cy="400.60" r="2.25" fill="#fff" stroke="#333" stroke-width="0.95" />
<circle cx="374.00" cy="400.60" r="2.25" fill="#fff" stroke="#333" stroke-width="0.95" />
<circle cx="389.00" cy="400.60" r="2.25" fill="#fff" stroke="#333" stroke-width="0.95" />
<circle cx="401.30" cy="400.60" r="2.25" fill="#fff" stroke="#333" stroke-width="0.95" />
<circle cx="408.30" cy="400.60" r="2.25" fill="#fff" stroke="#333" stroke-width="0.95" />
<line x1="151.00" y1="400.60" x2="153.50" y2="400.60" stroke="#777" stroke-width="1.6" />
<line x1="162.10" y1="400.60" x2="164.60" y2="400.60" stroke="#777" stroke-width="1.6" />
<line x1="176.90" y1="400.60" x2="179.40" y2="400.60" stroke="#777" stroke-width="1.6" />
<line x1="195.40" y1="400.60" x2="197.90" y2="400.60" stroke="#777" stroke-width="1.6" />
<line x1="398.80" y1="400.60" x2="396.30" y2="400.60" stroke="#777" stroke-width="1.6" />
<line x1="386.50" y1="400.60" x2="384.00" y2="400.60" stroke="#777" stroke-width="1.6" />
<line x1="371.50" y1="400.60" x2="369.00" y2="400.60" stroke="#777" stroke-width="1.6" />
<line x1="353.70" y1="400.60" x2="351.20" y2="400.60" stroke="#777" stroke-width="1.6" />
<rect x="261.30" y="397.20" width="26.90" height="1.70" fill="#222" stroke="#111" stroke-width="0.5" />
<path d="M268.8,438.8 V416.4 Q268.8,413.1 272,413.1 H277.4 Q280.6,413.1 280.6,416.4 V438.8 Z" fill="#fff" stroke="#333" stroke-width="1" />
<rect x="272.60" y="406.90" width="4.80" height="6.20" fill="#eee" stroke="#333" stroke-width="0.9" />
<line x1="273.00" y1="408.50" x2="276.80" y2="408.50" stroke="#333" stroke-width="0.7" />
<line x1="274.90" y1="404.00" x2="274.90" y2="471.00" stroke="#333" stroke-width="1" stroke-dasharray="3.2 1.6"/>
<rect x="271.80" y="439.80" width="4.60" height="16.20" fill="#fff" stroke="#222" stroke-width="1.1" />
<rect x="270.60" y="452.60" width="9.50" height="2.40" fill="#222" stroke="#111" stroke-width="0.5" />
<ellipse cx="280.00" cy="443.00" rx="3.20" ry="2.60" fill="none" stroke="#1a1a1a" stroke-width="1.2" />
<ellipse cx="283.50" cy="445.50" rx="3.40" ry="3.00" fill="none" stroke="#1a1a1a" stroke-width="1.2" />
<ellipse cx="281.00" cy="448.00" rx="3.20" ry="2.40" fill="none" stroke="#1a1a1a" stroke-width="1.2" />
<ellipse cx="284.50" cy="442.50" rx="2.60" ry="2.20" fill="none" stroke="#1a1a1a" stroke-width="1.2" />
<ellipse cx="279.00" cy="446.00" rx="2.20" ry="2.00" fill="none" stroke="#1a1a1a" stroke-width="1.2" />
<path d="M277,441 c3,-2 8,-2 10,1 c2,3 0,7 -3,9 c-3,1.5 -6,0.5 -7,-1" fill="none" stroke="#111" stroke-width="1.3" />
<path d="M258.5,443.5 l4.5,2.6 l2.2,-0.8 l5.8,4 M259.5,441.8 l5,3.2 M262,447.8 l6.2,2.2 l3,2.2 M264.5,444 l6.5,5" fill="none" stroke="#111" stroke-width="2.0" stroke-linejoin="round" stroke-linecap="round"/>
<path d="M262,449 l3,-3 M265.5,451 l2.6,-3.4 M268.5,452.8 l2,-3" fill="none" stroke="#111" stroke-width="1.2" />
<path d="M270.5,452 L263,455.5 L256.5,459.6 M271.5,453.5 L264,457 L257.5,460.6" fill="none" stroke="#333" stroke-width="0.9" />
<circle cx="274.20" cy="446.00" r="1.10" fill="#222" stroke="none" stroke-width="0" />
<circle cx="274.20" cy="450.00" r="1.10" fill="#222" stroke="none" stroke-width="0" />
<rect x="251.60" y="463.40" width="46.20" height="2.50" fill="#eee" stroke="#222" stroke-width="0.9" />
<circle cx="207.30" cy="467.50" r="12.00" fill="#fff" stroke="#333" stroke-width="1.1" />
<path d="M219,463.2 L222.2,466.8 L271.5,457" fill="none" stroke="#333" stroke-width="1.0" />
<path d="M216.2,478.8 L257.5,460.2" fill="none" stroke="#333" stroke-width="1.0" />
<path d="M197.5,464.8 l3.5,2.4 l3,-0.2 l3,2 c1.6,1 3.8,1.8 5.4,3.6 l3,3.6" fill="none" stroke="#222" stroke-width="1.3" stroke-linejoin="round"/>
<path d="M206,456.5 l1.8,4 l-0.6,2.4 l2.2,3.2 c1,1.8 2.6,3.2 3.6,5 l2.4,4" fill="none" stroke="#222" stroke-width="1.3" stroke-linejoin="round"/>
<path d="M200.8,467 l2.6,0 M207.8,461.2 l0.2,-2.2" fill="none" stroke="#111" stroke-width="2.0" />
<path d="M211.2,470.2 l4,4.6 M212.8,468.8 l3.6,4.8 M213.6,474.6 l2.2,2.6" fill="none" stroke="#111" stroke-width="1.7" />
<path d="M196.6,463.8 l1.4,1 M205.4,455 l0.6,1.6" fill="none" stroke="#444" stroke-width="0.8" />
<circle cx="213.30" cy="487.70" r="6.10" fill="#fff" stroke="#333" stroke-width="1.1" />
<text x="213.30" y="491.12" font-size="9.5" fill="#666" text-anchor="middle" >2</text>
<circle cx="274.50" cy="475.00" r="3.20" fill="#fff" stroke="#555" stroke-width="0.9" />
<line x1="274.80" y1="471.50" x2="274.80" y2="477.50" stroke="#666" stroke-width="0.7" stroke-dasharray="1.5 1"/>
<ellipse cx="274.60" cy="487.30" rx="6.90" ry="2.30" fill="none" stroke="#222" stroke-width="1.7" />
<line x1="274.60" y1="492.30" x2="274.60" y2="483.80" stroke="#222" stroke-width="1.1" />
<polygon points="274.60,481.30 272.90,484.50 276.30,484.50" fill="#222" stroke="none" stroke-width="0" />
<polygon points="280.00,490.20 277.00,488.40 277.30,491.40" fill="#222" stroke="none" stroke-width="0" />
<circle cx="275.00" cy="498.20" r="5.90" fill="#fff" stroke="#333" stroke-width="1.2" />
<text x="275.00" y="501.62" font-size="9.5" fill="#666" text-anchor="middle" >3</text>
<circle cx="382.10" cy="358.60" r="5.85" fill="#fff" stroke="#333" stroke-width="1.5" />
<text x="382.10" y="361.84" font-size="9" fill="#777" text-anchor="middle" >5</text>
<ellipse cx="381.90" cy="374.40" rx="7.50" ry="2.50" fill="none" stroke="#222" stroke-width="1.6" />
<line x1="381.90" y1="369.80" x2="381.90" y2="377.50" stroke="#222" stroke-width="1.1" />
<polygon points="381.90,380.00 380.20,376.80 383.60,376.80" fill="#222" stroke="none" stroke-width="0" />
<polygon points="387.90,377.50 384.90,375.70 385.20,378.70" fill="#222" stroke="none" stroke-width="0" />
<line x1="381.90" y1="370.40" x2="381.90" y2="376.00" stroke="#222" stroke-width="1.1" />
<path d="M380,389.2 H383.4 M381.7,389.2 V393.5" fill="none" stroke="#222" stroke-width="1.5" />
<line x1="381.60" y1="403.50" x2="381.60" y2="481.00" stroke="#333" stroke-width="1" stroke-dasharray="3.2 1.8"/>
</g>
<g id="lower">
<rect x="167.60" y="482.00" width="3.00" height="43.80" fill="#fff" stroke="#444" stroke-width="0.9" />
<rect x="379.40" y="481.40" width="3.60" height="45.00" fill="#fff" stroke="#444" stroke-width="0.9" />
<line x1="167.20" y1="525.80" x2="383.20" y2="525.80" stroke="#333" stroke-width="1.0" />
<line x1="167.20" y1="529.90" x2="383.20" y2="529.90" stroke="#333" stroke-width="0.95" />
<line x1="167.60" y1="525.80" x2="167.60" y2="529.90" stroke="#222" stroke-width="1" />
<line x1="383.00" y1="525.80" x2="383.00" y2="529.90" stroke="#222" stroke-width="1" />
<line x1="170.00" y1="527.90" x2="381.00" y2="527.90" stroke="#8a8a8a" stroke-width="1.5" stroke-dasharray="5.2 3.4"/>
<line x1="169.00" y1="527.90" x2="196.00" y2="527.90" stroke="#555" stroke-width="1.6" stroke-dasharray="2 1.6"/>
<line x1="362.00" y1="527.90" x2="381.00" y2="527.90" stroke="#555" stroke-width="1.6" stroke-dasharray="2.4 1.8"/>
<line x1="169.00" y1="525.30" x2="197.50" y2="525.30" stroke="#222" stroke-width="1.5" />
<line x1="239.50" y1="525.30" x2="257.50" y2="525.30" stroke="#222" stroke-width="1.5" />
<line x1="337.00" y1="525.30" x2="364.00" y2="525.30" stroke="#222" stroke-width="1.5" />
<line x1="198.60" y1="530.00" x2="198.60" y2="562.00" stroke="#444" stroke-width="1" stroke-dasharray="3 1.8"/>
<line x1="207.40" y1="530.00" x2="207.40" y2="567.00" stroke="#444" stroke-width="1" stroke-dasharray="3 1.8"/>
<line x1="198.60" y1="560.30" x2="198.60" y2="631.00" stroke="#333" stroke-width="0.9" />
<circle cx="198.60" cy="565.00" r="2.65" fill="#c4c4c4" stroke="#1c1c1c" stroke-width="1.5" />
<path d="M199.50,564.10 A1.2,1.2 0 1 0 199.50,565.90" fill="none" stroke="#3a3a3a" stroke-width="0.8" />
<circle cx="198.60" cy="573.25" r="2.65" fill="#c4c4c4" stroke="#1c1c1c" stroke-width="1.5" />
<path d="M199.50,572.35 A1.2,1.2 0 1 0 199.50,574.15" fill="none" stroke="#3a3a3a" stroke-width="0.8" />
<circle cx="198.60" cy="581.50" r="2.65" fill="#c4c4c4" stroke="#1c1c1c" stroke-width="1.5" />
<path d="M199.50,580.60 A1.2,1.2 0 1 0 199.50,582.40" fill="none" stroke="#3a3a3a" stroke-width="0.8" />
<circle cx="198.60" cy="589.75" r="2.65" fill="#c4c4c4" stroke="#1c1c1c" stroke-width="1.5" />
<path d="M199.50,588.85 A1.2,1.2 0 1 0 199.50,590.65" fill="none" stroke="#3a3a3a" stroke-width="0.8" />
<circle cx="198.60" cy="598.00" r="2.65" fill="#c4c4c4" stroke="#1c1c1c" stroke-width="1.5" />
<path d="M199.50,597.10 A1.2,1.2 0 1 0 199.50,598.90" fill="none" stroke="#3a3a3a" stroke-width="0.8" />
<circle cx="198.60" cy="606.25" r="2.65" fill="#c4c4c4" stroke="#1c1c1c" stroke-width="1.5" />
<path d="M199.50,605.35 A1.2,1.2 0 1 0 199.50,607.15" fill="none" stroke="#3a3a3a" stroke-width="0.8" />
<circle cx="198.60" cy="614.50" r="2.65" fill="#c4c4c4" stroke="#1c1c1c" stroke-width="1.5" />
<path d="M199.50,613.60 A1.2,1.2 0 1 0 199.50,615.40" fill="none" stroke="#3a3a3a" stroke-width="0.8" />
<circle cx="198.60" cy="622.75" r="2.65" fill="#c4c4c4" stroke="#1c1c1c" stroke-width="1.5" />
<path d="M199.50,621.85 A1.2,1.2 0 1 0 199.50,623.65" fill="none" stroke="#3a3a3a" stroke-width="0.8" />
<circle cx="198.60" cy="631.00" r="2.65" fill="#c4c4c4" stroke="#1c1c1c" stroke-width="1.5" />
<path d="M199.50,630.10 A1.2,1.2 0 1 0 199.50,631.90" fill="none" stroke="#3a3a3a" stroke-width="0.8" />
<line x1="207.40" y1="564.70" x2="207.40" y2="619.02" stroke="#333" stroke-width="0.9" />
<circle cx="207.40" cy="569.40" r="2.65" fill="#c4c4c4" stroke="#1c1c1c" stroke-width="1.5" />
<path d="M208.30,568.50 A1.2,1.2 0 1 0 208.30,570.30" fill="none" stroke="#3a3a3a" stroke-width="0.8" />
<circle cx="207.40" cy="577.67" r="2.65" fill="#c4c4c4" stroke="#1c1c1c" stroke-width="1.5" />
<path d="M208.30,576.77 A1.2,1.2 0 1 0 208.30,578.57" fill="none" stroke="#3a3a3a" stroke-width="0.8" />
<circle cx="207.40" cy="585.94" r="2.65" fill="#c4c4c4" stroke="#1c1c1c" stroke-width="1.5" />
<path d="M208.30,585.04 A1.2,1.2 0 1 0 208.30,586.84" fill="none" stroke="#3a3a3a" stroke-width="0.8" />
<circle cx="207.40" cy="594.21" r="2.65" fill="#c4c4c4" stroke="#1c1c1c" stroke-width="1.5" />
<path d="M208.30,593.31 A1.2,1.2 0 1 0 208.30,595.11" fill="none" stroke="#3a3a3a" stroke-width="0.8" />
<circle cx="207.40" cy="602.48" r="2.65" fill="#c4c4c4" stroke="#1c1c1c" stroke-width="1.5" />
<path d="M208.30,601.58 A1.2,1.2 0 1 0 208.30,603.38" fill="none" stroke="#3a3a3a" stroke-width="0.8" />
<circle cx="207.40" cy="610.75" r="2.65" fill="#c4c4c4" stroke="#1c1c1c" stroke-width="1.5" />
<path d="M208.30,609.85 A1.2,1.2 0 1 0 208.30,611.65" fill="none" stroke="#3a3a3a" stroke-width="0.8" />
<circle cx="207.40" cy="619.02" r="2.65" fill="#c4c4c4" stroke="#1c1c1c" stroke-width="1.5" />
<path d="M208.30,618.12 A1.2,1.2 0 1 0 208.30,619.92" fill="none" stroke="#3a3a3a" stroke-width="0.8" />
<line x1="370.00" y1="530.10" x2="370.00" y2="575.60" stroke="#333" stroke-width="0.9" />
<circle cx="370.00" cy="535.00" r="2.85" fill="#c4c4c4" stroke="#1c1c1c" stroke-width="1.5" />
<path d="M370.90,534.10 A1.2,1.2 0 1 0 370.90,535.90" fill="none" stroke="#3a3a3a" stroke-width="0.8" />
<circle cx="370.00" cy="542.80" r="2.85" fill="#c4c4c4" stroke="#1c1c1c" stroke-width="1.5" />
<path d="M370.90,541.90 A1.2,1.2 0 1 0 370.90,543.70" fill="none" stroke="#3a3a3a" stroke-width="0.8" />
<circle cx="370.00" cy="550.80" r="2.85" fill="#c4c4c4" stroke="#1c1c1c" stroke-width="1.5" />
<path d="M370.90,549.90 A1.2,1.2 0 1 0 370.90,551.70" fill="none" stroke="#3a3a3a" stroke-width="0.8" />
<circle cx="370.00" cy="559.00" r="2.85" fill="#c4c4c4" stroke="#1c1c1c" stroke-width="1.5" />
<path d="M370.90,558.10 A1.2,1.2 0 1 0 370.90,559.90" fill="none" stroke="#3a3a3a" stroke-width="0.8" />
<circle cx="370.00" cy="567.40" r="2.85" fill="#c4c4c4" stroke="#1c1c1c" stroke-width="1.5" />
<path d="M370.90,566.50 A1.2,1.2 0 1 0 370.90,568.30" fill="none" stroke="#3a3a3a" stroke-width="0.8" />
<circle cx="370.00" cy="575.60" r="2.85" fill="#c4c4c4" stroke="#1c1c1c" stroke-width="1.5" />
<path d="M370.90,574.70 A1.2,1.2 0 1 0 370.90,576.50" fill="none" stroke="#3a3a3a" stroke-width="0.8" />
<line x1="379.80" y1="530.10" x2="379.80" y2="560.50" stroke="#333" stroke-width="0.9" />
<circle cx="379.80" cy="535.00" r="2.85" fill="#c4c4c4" stroke="#1c1c1c" stroke-width="1.5" />
<path d="M380.70,534.10 A1.2,1.2 0 1 0 380.70,535.90" fill="none" stroke="#3a3a3a" stroke-width="0.8" />
<circle cx="379.80" cy="543.50" r="2.85" fill="#c4c4c4" stroke="#1c1c1c" stroke-width="1.5" />
<path d="M380.70,542.60 A1.2,1.2 0 1 0 380.70,544.40" fill="none" stroke="#3a3a3a" stroke-width="0.8" />
<circle cx="379.80" cy="552.00" r="2.85" fill="#c4c4c4" stroke="#1c1c1c" stroke-width="1.5" />
<path d="M380.70,551.10 A1.2,1.2 0 1 0 380.70,552.90" fill="none" stroke="#3a3a3a" stroke-width="0.8" />
<circle cx="379.80" cy="560.50" r="2.85" fill="#c4c4c4" stroke="#1c1c1c" stroke-width="1.5" />
<path d="M380.70,559.60 A1.2,1.2 0 1 0 380.70,561.40" fill="none" stroke="#3a3a3a" stroke-width="0.8" />
<line x1="217.00" y1="593.40" x2="217.00" y2="583.10" stroke="#555" stroke-width="1.5" />
<polygon points="217.00,580.60 215.10,584.20 218.90,584.20" fill="#555" stroke="none" stroke-width="0" />
<line x1="389.30" y1="558.00" x2="389.30" y2="546.90" stroke="#666" stroke-width="1.5" />
<polygon points="389.30,544.40 387.40,548.00 391.20,548.00" fill="#666" stroke="none" stroke-width="0" />
<text x="205.00" y="631.40" font-size="9.4" fill="#444" text-anchor="start" textLength="34.4" lengthAdjust="spacingAndGlyphs">C 25pcs</text>
<text x="196.00" y="648.30" font-size="9.4" fill="#444" text-anchor="start" textLength="34" lengthAdjust="spacingAndGlyphs">D 25pcs</text>
<text x="377.40" y="572.50" font-size="9.3" fill="#444" text-anchor="start" textLength="32.8" lengthAdjust="spacingAndGlyphs">A 36pcs</text>
<text x="367.80" y="589.50" font-size="9.3" fill="#444" text-anchor="start" textLength="33.2" lengthAdjust="spacingAndGlyphs">B 36pcs</text>
<line x1="384.40" y1="528.20" x2="390.00" y2="528.20" stroke="#222" stroke-width="1.8" />
<line x1="393.00" y1="528.20" x2="404.20" y2="528.20" stroke="#222" stroke-width="1.3" />
<polygon points="392.40,528.20 396.40,526.20 396.40,530.20" fill="#222" stroke="none" stroke-width="0" />
<ellipse cx="400.80" cy="528.10" rx="2.60" ry="7.30" fill="none" stroke="#222" stroke-width="1.8" />
<circle cx="412.80" cy="528.70" r="5.70" fill="#fff" stroke="#222" stroke-width="1.8" />
<text x="412.80" y="532.00" font-size="9.2" fill="#999" text-anchor="middle" >4</text>
</g>
<g id="glass">
<text x="432.60" y="382.40" font-size="8.6" fill="#444" text-anchor="middle" >50</text>
<line x1="421.40" y1="383.30" x2="443.40" y2="383.30" stroke="#333" stroke-width="0.9" />
<line x1="421.40" y1="383.30" x2="421.40" y2="389.50" stroke="#333" stroke-width="0.9" />
<line x1="443.40" y1="383.30" x2="443.40" y2="389.50" stroke="#333" stroke-width="0.9" />
<rect x="421.40" y="389.30" width="22.00" height="67.90" fill="#fff" stroke="#222" stroke-width="1.0" />
<rect x="427.50" y="395.50" width="10.80" height="55.50" fill="none" stroke="#333" stroke-width="0.9" />
<line x1="421.40" y1="389.30" x2="427.50" y2="395.50" stroke="#444" stroke-width="0.8" />
<line x1="443.40" y1="389.30" x2="438.30" y2="395.50" stroke="#444" stroke-width="0.8" />
<line x1="421.40" y1="457.20" x2="427.50" y2="451.00" stroke="#444" stroke-width="0.8" />
<line x1="443.40" y1="457.20" x2="438.30" y2="451.00" stroke="#444" stroke-width="0.8" />
<circle cx="433.00" cy="401.30" r="0.80" fill="#333" stroke="none" stroke-width="0" />
<line x1="443.40" y1="389.30" x2="457.60" y2="389.30" stroke="#333" stroke-width="0.9" />
<line x1="443.40" y1="457.20" x2="457.60" y2="457.20" stroke="#333" stroke-width="0.9" />
<line x1="457.40" y1="389.30" x2="457.40" y2="457.20" stroke="#333" stroke-width="0.9" />
<text transform="translate(455.3,423.2) rotate(-90)" font-size="8.6" fill="#444" text-anchor="middle">150</text>
<rect x="463.00" y="400.10" width="9.00" height="2.80" fill="#bbb" stroke="#333" stroke-width="0.9" />
<path d="M474,401.3 H496.9 Q498.3,401.3 498.3,402.8 V408.6" fill="none" stroke="#2a2a2a" stroke-width="1.8" />
<ellipse cx="509.70" cy="401.20" rx="2.90" ry="7.20" fill="none" stroke="#222" stroke-width="1.7" />
<line x1="501.60" y1="401.20" x2="513.20" y2="401.20" stroke="#222" stroke-width="1.2" />
<polygon points="507.20,401.20 503.80,399.20 503.80,403.20" fill="#222" stroke="none" stroke-width="0" />
<circle cx="510.00" cy="419.10" r="5.80" fill="#fff" stroke="#222" stroke-width="1.7" />
<text x="510" y="422.5" font-size="9.6" fill="#555" text-anchor="middle" textLength="7.2" lengthAdjust="spacingAndGlyphs" style="font-family:'Liberation Serif',serif">11</text>
<text x="422.40" y="472.60" font-size="9.5" fill="#3a3a3a" text-anchor="start" textLength="101.4" lengthAdjust="spacingAndGlyphs">Clear glass sheet 18 pcs</text>
<text x="422.40" y="495.00" font-size="9.5" fill="#3a3a3a" text-anchor="start" textLength="129.6" lengthAdjust="spacingAndGlyphs">Smoke gray glass sheet 18 pcs</text>
</g>
<g id="chand">
<rect x="535.30" y="83.70" width="31.50" height="6.40" fill="#fff" stroke="#333" stroke-width="1.0" />
<line x1="531.00" y1="90.30" x2="570.30" y2="90.30" stroke="#333" stroke-width="1.1" />
<rect x="536.80" y="91.00" width="3.40" height="2.40" fill="#111" stroke="none" stroke-width="0" />
<rect x="560.60" y="91.00" width="3.40" height="2.40" fill="#111" stroke="none" stroke-width="0" />
<path d="M548.3,90.8 L550.6,94.5 L552.9,90.8" fill="none" stroke="#222" stroke-width="1" />
<line x1="550.70" y1="94.00" x2="550.70" y2="221.00" stroke="#1a1a1a" stroke-width="1.7" />
<rect x="548.40" y="98.60" width="4.60" height="9.60" fill="#fff" stroke="#1a1a1a" stroke-width="1.5" rx="2.1"/>
<line x1="550.70" y1="101.20" x2="550.70" y2="105.60" stroke="#777" stroke-width="0.9" />
<rect x="548.40" y="112.55" width="4.60" height="9.60" fill="#fff" stroke="#1a1a1a" stroke-width="1.5" rx="2.1"/>
<line x1="550.70" y1="115.15" x2="550.70" y2="119.55" stroke="#777" stroke-width="0.9" />
<rect x="548.40" y="126.50" width="4.60" height="9.60" fill="#fff" stroke="#1a1a1a" stroke-width="1.5" rx="2.1"/>
<line x1="550.70" y1="129.10" x2="550.70" y2="133.50" stroke="#777" stroke-width="0.9" />
<rect x="548.40" y="140.45" width="4.60" height="9.60" fill="#fff" stroke="#1a1a1a" stroke-width="1.5" rx="2.1"/>
<line x1="550.70" y1="143.05" x2="550.70" y2="147.45" stroke="#777" stroke-width="0.9" />
<rect x="548.40" y="168.35" width="4.60" height="9.60" fill="#fff" stroke="#1a1a1a" stroke-width="1.5" rx="2.1"/>
<line x1="550.70" y1="170.95" x2="550.70" y2="175.35" stroke="#777" stroke-width="0.9" />
<rect x="548.40" y="182.30" width="4.60" height="9.60" fill="#fff" stroke="#1a1a1a" stroke-width="1.5" rx="2.1"/>
<line x1="550.70" y1="184.90" x2="550.70" y2="189.30" stroke="#777" stroke-width="0.9" />
<rect x="548.40" y="196.25" width="4.60" height="9.60" fill="#fff" stroke="#1a1a1a" stroke-width="1.5" rx="2.1"/>
<line x1="550.70" y1="198.85" x2="550.70" y2="203.25" stroke="#777" stroke-width="0.9" />
<rect x="548.40" y="210.20" width="4.60" height="9.60" fill="#fff" stroke="#1a1a1a" stroke-width="1.5" rx="2.1"/>
<line x1="550.70" y1="212.80" x2="550.70" y2="217.20" stroke="#777" stroke-width="0.9" />
<line x1="542.60" y1="159.40" x2="555.00" y2="147.00" stroke="#333" stroke-width="1" />
<line x1="548.00" y1="166.30" x2="560.50" y2="153.90" stroke="#333" stroke-width="1" />
<rect x="547.60" y="221.00" width="5.00" height="11.80" fill="#fff" stroke="#333" stroke-width="1" />
<rect x="471.20" y="233.40" width="159.40" height="39.40" fill="#fff" stroke="#333" stroke-width="1.0" rx="2.5"/>
<rect x="473.31" y="236.90" width="1.80" height="32.80" fill="none" stroke="#4a4a4a" stroke-width="0.9" />
<line x1="472.73" y1="233.80" x2="473.31" y2="236.90" stroke="#555" stroke-width="0.7" />
<line x1="475.68" y1="233.80" x2="475.11" y2="236.90" stroke="#555" stroke-width="0.7" />
<line x1="472.73" y1="272.40" x2="473.31" y2="269.70" stroke="#555" stroke-width="0.7" />
<line x1="475.68" y1="272.40" x2="475.11" y2="269.70" stroke="#555" stroke-width="0.7" />
<rect x="477.47" y="236.90" width="2.94" height="32.80" fill="none" stroke="#4a4a4a" stroke-width="0.9" />
<line x1="476.53" y1="233.80" x2="477.47" y2="236.90" stroke="#555" stroke-width="0.7" />
<line x1="481.35" y1="233.80" x2="480.41" y2="236.90" stroke="#555" stroke-width="0.7" />
<line x1="476.53" y1="272.40" x2="477.47" y2="269.70" stroke="#555" stroke-width="0.7" />
<line x1="481.35" y1="272.40" x2="480.41" y2="269.70" stroke="#555" stroke-width="0.7" />
<rect x="483.87" y="236.90" width="3.98" height="32.80" fill="none" stroke="#4a4a4a" stroke-width="0.9" />
<line x1="482.59" y1="233.80" x2="483.87" y2="236.90" stroke="#555" stroke-width="0.7" />
<line x1="489.13" y1="233.80" x2="487.85" y2="236.90" stroke="#555" stroke-width="0.7" />
<line x1="482.59" y1="272.40" x2="483.87" y2="269.70" stroke="#555" stroke-width="0.7" />
<line x1="489.13" y1="272.40" x2="487.85" y2="269.70" stroke="#555" stroke-width="0.7" />
<circle cx="485.86" cy="240.30" r="1.15" fill="#ddd" stroke="#222" stroke-width="0.8" />
<rect x="492.30" y="236.90" width="4.91" height="32.80" fill="none" stroke="#4a4a4a" stroke-width="0.9" />
<line x1="490.73" y1="233.80" x2="492.30" y2="236.90" stroke="#555" stroke-width="0.7" />
<line x1="498.79" y1="233.80" x2="497.21" y2="236.90" stroke="#555" stroke-width="0.7" />
<line x1="490.73" y1="272.40" x2="492.30" y2="269.70" stroke="#555" stroke-width="0.7" />
<line x1="498.79" y1="272.40" x2="497.21" y2="269.70" stroke="#555" stroke-width="0.7" />
<circle cx="494.76" cy="240.30" r="1.15" fill="#ddd" stroke="#222" stroke-width="0.8" />
<rect x="502.51" y="236.90" width="5.69" height="32.80" fill="none" stroke="#4a4a4a" stroke-width="0.9" />
<line x1="500.69" y1="233.80" x2="502.51" y2="236.90" stroke="#555" stroke-width="0.7" />
<line x1="510.03" y1="233.80" x2="508.20" y2="236.90" stroke="#555" stroke-width="0.7" />
<line x1="500.69" y1="272.40" x2="502.51" y2="269.70" stroke="#555" stroke-width="0.7" />
<line x1="510.03" y1="272.40" x2="508.20" y2="269.70" stroke="#555" stroke-width="0.7" />
<circle cx="505.36" cy="240.30" r="1.15" fill="#ddd" stroke="#222" stroke-width="0.8" />
<rect x="514.20" y="236.90" width="6.30" height="32.80" fill="none" stroke="#4a4a4a" stroke-width="0.9" />
<line x1="512.18" y1="233.80" x2="514.20" y2="236.90" stroke="#555" stroke-width="0.7" />
<line x1="522.51" y1="233.80" x2="520.49" y2="236.90" stroke="#555" stroke-width="0.7" />
<line x1="512.18" y1="272.40" x2="514.20" y2="269.70" stroke="#555" stroke-width="0.7" />
<line x1="522.51" y1="272.40" x2="520.49" y2="269.70" stroke="#555" stroke-width="0.7" />
<circle cx="517.35" cy="240.30" r="1.15" fill="#ddd" stroke="#222" stroke-width="0.8" />
<rect x="527.00" y="236.90" width="6.71" height="32.80" fill="none" stroke="#4a4a4a" stroke-width="0.9" />
<line x1="524.84" y1="233.80" x2="527.00" y2="236.90" stroke="#555" stroke-width="0.7" />
<line x1="535.86" y1="233.80" x2="533.71" y2="236.90" stroke="#555" stroke-width="0.7" />
<line x1="524.84" y1="272.40" x2="527.00" y2="269.70" stroke="#555" stroke-width="0.7" />
<line x1="535.86" y1="272.40" x2="533.71" y2="269.70" stroke="#555" stroke-width="0.7" />
<circle cx="530.35" cy="240.30" r="1.15" fill="#ddd" stroke="#222" stroke-width="0.8" />
<rect x="540.52" y="236.90" width="6.92" height="32.80" fill="none" stroke="#4a4a4a" stroke-width="0.9" />
<line x1="538.26" y1="233.80" x2="540.52" y2="236.90" stroke="#555" stroke-width="0.7" />
<line x1="549.70" y1="233.80" x2="547.44" y2="236.90" stroke="#555" stroke-width="0.7" />
<line x1="538.26" y1="272.40" x2="540.52" y2="269.70" stroke="#555" stroke-width="0.7" />
<line x1="549.70" y1="272.40" x2="547.44" y2="269.70" stroke="#555" stroke-width="0.7" />
<circle cx="543.98" cy="240.30" r="1.15" fill="#ddd" stroke="#222" stroke-width="0.8" />
<rect x="554.36" y="236.90" width="6.92" height="32.80" fill="none" stroke="#4a4a4a" stroke-width="0.9" />
<line x1="552.10" y1="233.80" x2="554.36" y2="236.90" stroke="#555" stroke-width="0.7" />
<line x1="563.54" y1="233.80" x2="561.28" y2="236.90" stroke="#555" stroke-width="0.7" />
<line x1="552.10" y1="272.40" x2="554.36" y2="269.70" stroke="#555" stroke-width="0.7" />
<line x1="563.54" y1="272.40" x2="561.28" y2="269.70" stroke="#555" stroke-width="0.7" />
<circle cx="557.82" cy="240.30" r="1.15" fill="#ddd" stroke="#222" stroke-width="0.8" />
<rect x="568.09" y="236.90" width="6.71" height="32.80" fill="none" stroke="#4a4a4a" stroke-width="0.9" />
<line x1="565.94" y1="233.80" x2="568.09" y2="236.90" stroke="#555" stroke-width="0.7" />
<line x1="576.96" y1="233.80" x2="574.80" y2="236.90" stroke="#555" stroke-width="0.7" />
<line x1="565.94" y1="272.40" x2="568.09" y2="269.70" stroke="#555" stroke-width="0.7" />
<line x1="576.96" y1="272.40" x2="574.80" y2="269.70" stroke="#555" stroke-width="0.7" />
<circle cx="571.45" cy="240.30" r="1.15" fill="#ddd" stroke="#222" stroke-width="0.8" />
<rect x="581.31" y="236.90" width="6.30" height="32.80" fill="none" stroke="#4a4a4a" stroke-width="0.9" />
<line x1="579.29" y1="233.80" x2="581.31" y2="236.90" stroke="#555" stroke-width="0.7" />
<line x1="589.62" y1="233.80" x2="587.60" y2="236.90" stroke="#555" stroke-width="0.7" />
<line x1="579.29" y1="272.40" x2="581.31" y2="269.70" stroke="#555" stroke-width="0.7" />
<line x1="589.62" y1="272.40" x2="587.60" y2="269.70" stroke="#555" stroke-width="0.7" />
<circle cx="584.45" cy="240.30" r="1.15" fill="#ddd" stroke="#222" stroke-width="0.8" />
<rect x="593.60" y="236.90" width="5.69" height="32.80" fill="none" stroke="#4a4a4a" stroke-width="0.9" />
<line x1="591.77" y1="233.80" x2="593.60" y2="236.90" stroke="#555" stroke-width="0.7" />
<line x1="601.11" y1="233.80" x2="599.29" y2="236.90" stroke="#555" stroke-width="0.7" />
<line x1="591.77" y1="272.40" x2="593.60" y2="269.70" stroke="#555" stroke-width="0.7" />
<line x1="601.11" y1="272.40" x2="599.29" y2="269.70" stroke="#555" stroke-width="0.7" />
<circle cx="596.44" cy="240.30" r="1.15" fill="#ddd" stroke="#222" stroke-width="0.8" />
<rect x="604.59" y="236.90" width="4.91" height="32.80" fill="none" stroke="#4a4a4a" stroke-width="0.9" />
<line x1="603.01" y1="233.80" x2="604.59" y2="236.90" stroke="#555" stroke-width="0.7" />
<line x1="611.07" y1="233.80" x2="609.50" y2="236.90" stroke="#555" stroke-width="0.7" />
<line x1="603.01" y1="272.40" x2="604.59" y2="269.70" stroke="#555" stroke-width="0.7" />
<line x1="611.07" y1="272.40" x2="609.50" y2="269.70" stroke="#555" stroke-width="0.7" />
<circle cx="607.04" cy="240.30" r="1.15" fill="#ddd" stroke="#222" stroke-width="0.8" />
<rect x="613.95" y="236.90" width="3.98" height="32.80" fill="none" stroke="#4a4a4a" stroke-width="0.9" />
<line x1="612.67" y1="233.80" x2="613.95" y2="236.90" stroke="#555" stroke-width="0.7" />
<line x1="619.21" y1="233.80" x2="617.93" y2="236.90" stroke="#555" stroke-width="0.7" />
<line x1="612.67" y1="272.40" x2="613.95" y2="269.70" stroke="#555" stroke-width="0.7" />
<line x1="619.21" y1="272.40" x2="617.93" y2="269.70" stroke="#555" stroke-width="0.7" />
<circle cx="615.94" cy="240.30" r="1.15" fill="#ddd" stroke="#222" stroke-width="0.8" />
<rect x="621.39" y="236.90" width="2.94" height="32.80" fill="none" stroke="#4a4a4a" stroke-width="0.9" />
<line x1="620.45" y1="233.80" x2="621.39" y2="236.90" stroke="#555" stroke-width="0.7" />
<line x1="625.27" y1="233.80" x2="624.33" y2="236.90" stroke="#555" stroke-width="0.7" />
<line x1="620.45" y1="272.40" x2="621.39" y2="269.70" stroke="#555" stroke-width="0.7" />
<line x1="625.27" y1="272.40" x2="624.33" y2="269.70" stroke="#555" stroke-width="0.7" />
<rect x="626.69" y="236.90" width="1.80" height="32.80" fill="none" stroke="#4a4a4a" stroke-width="0.9" />
<line x1="626.12" y1="233.80" x2="626.69" y2="236.90" stroke="#555" stroke-width="0.7" />
<line x1="629.07" y1="233.80" x2="628.49" y2="236.90" stroke="#555" stroke-width="0.7" />
<line x1="626.12" y1="272.40" x2="626.69" y2="269.70" stroke="#555" stroke-width="0.7" />
<line x1="629.07" y1="272.40" x2="628.49" y2="269.70" stroke="#555" stroke-width="0.7" />
<line x1="471.92" y1="233.80" x2="471.92" y2="272.40" stroke="#555" stroke-width="0.7" />
<line x1="472.90" y1="233.80" x2="472.90" y2="272.40" stroke="#555" stroke-width="0.7" />
<line x1="472.41" y1="234.00" x2="472.41" y2="272.50" stroke="#1c1c1c" stroke-width="0.9159249763252388" stroke-dasharray="3.4 1.2"/>
<line x1="472.41" y1="265.80" x2="472.41" y2="272.80" stroke="#111" stroke-width="1.1272922785541402" />
<line x1="475.48" y1="233.80" x2="475.48" y2="272.40" stroke="#555" stroke-width="0.7" />
<line x1="476.53" y1="233.80" x2="476.53" y2="272.40" stroke="#555" stroke-width="0.7" />
<line x1="476.01" y1="234.00" x2="476.01" y2="272.50" stroke="#1c1c1c" stroke-width="0.9335198778934959" stroke-dasharray="3.4 1.2"/>
<line x1="476.01" y1="265.80" x2="476.01" y2="272.80" stroke="#111" stroke-width="1.1489475420227642" />
<line x1="481.30" y1="233.80" x2="481.30" y2="272.40" stroke="#555" stroke-width="0.7" />
<line x1="482.45" y1="233.80" x2="482.45" y2="272.40" stroke="#555" stroke-width="0.7" />
<line x1="481.88" y1="234.00" x2="481.88" y2="272.50" stroke="#1c1c1c" stroke-width="0.962250092524069" stroke-dasharray="3.4 1.2"/>
<line x1="481.88" y1="265.80" x2="481.88" y2="272.80" stroke="#111" stroke-width="1.1843078061834695" />
<line x1="489.20" y1="233.80" x2="489.20" y2="272.40" stroke="#555" stroke-width="0.7" />
<line x1="490.49" y1="233.80" x2="490.49" y2="272.40" stroke="#555" stroke-width="0.7" />
<line x1="489.85" y1="234.00" x2="489.85" y2="272.50" stroke="#1c1c1c" stroke-width="1.0012426671835986" stroke-dasharray="3.4 1.2"/>
<line x1="489.85" y1="265.80" x2="489.85" y2="272.80" stroke="#111" stroke-width="1.2322986673028906" />
<line x1="498.93" y1="233.80" x2="498.93" y2="272.40" stroke="#555" stroke-width="0.7" />
<line x1="500.41" y1="233.80" x2="500.41" y2="272.40" stroke="#555" stroke-width="0.7" />
<line x1="499.67" y1="234.00" x2="499.67" y2="272.50" stroke="#1c1c1c" stroke-width="1.0493128322222498" stroke-dasharray="3.4 1.2"/>
<line x1="499.67" y1="265.80" x2="499.67" y2="272.80" stroke="#111" stroke-width="1.2914619473504614" />
<line x1="510.21" y1="233.80" x2="510.21" y2="272.40" stroke="#555" stroke-width="0.7" />
<line x1="511.89" y1="233.80" x2="511.89" y2="272.40" stroke="#555" stroke-width="0.7" />
<line x1="511.05" y1="234.00" x2="511.05" y2="272.50" stroke="#1c1c1c" stroke-width="1.105" stroke-dasharray="3.4 1.2"/>
<line x1="511.05" y1="265.80" x2="511.05" y2="272.80" stroke="#111" stroke-width="1.36" />
<line x1="522.69" y1="233.80" x2="522.69" y2="272.40" stroke="#555" stroke-width="0.7" />
<line x1="524.59" y1="233.80" x2="524.59" y2="272.40" stroke="#555" stroke-width="0.7" />
<line x1="523.64" y1="234.00" x2="523.64" y2="272.50" stroke="#1c1c1c" stroke-width="1.1666121441029893" stroke-dasharray="3.4 1.2"/>
<line x1="523.64" y1="265.80" x2="523.64" y2="272.80" stroke="#111" stroke-width="1.4358303312036793" />
<line x1="535.99" y1="233.80" x2="535.99" y2="272.40" stroke="#555" stroke-width="0.7" />
<line x1="538.14" y1="233.80" x2="538.14" y2="272.40" stroke="#555" stroke-width="0.7" />
<line x1="537.06" y1="234.00" x2="537.06" y2="272.50" stroke="#1c1c1c" stroke-width="1.2322772107098974" stroke-dasharray="3.4 1.2"/>
<line x1="537.06" y1="265.80" x2="537.06" y2="272.80" stroke="#111" stroke-width="1.5166488747198736" />
<line x1="549.70" y1="233.80" x2="549.70" y2="272.40" stroke="#555" stroke-width="0.7" />
<line x1="552.10" y1="233.80" x2="552.10" y2="272.40" stroke="#555" stroke-width="0.7" />
<line x1="550.90" y1="234.00" x2="550.90" y2="272.50" stroke="#1c1c1c" stroke-width="1.3" stroke-dasharray="3.4 1.2"/>
<line x1="550.90" y1="265.80" x2="550.90" y2="272.80" stroke="#111" stroke-width="1.6" />
<line x1="563.66" y1="233.80" x2="563.66" y2="272.40" stroke="#555" stroke-width="0.7" />
<line x1="565.81" y1="233.80" x2="565.81" y2="272.40" stroke="#555" stroke-width="0.7" />
<line x1="564.74" y1="234.00" x2="564.74" y2="272.50" stroke="#1c1c1c" stroke-width="1.2322772107098974" stroke-dasharray="3.4 1.2"/>
<line x1="564.74" y1="265.80" x2="564.74" y2="272.80" stroke="#111" stroke-width="1.5166488747198736" />
<line x1="577.21" y1="233.80" x2="577.21" y2="272.40" stroke="#555" stroke-width="0.7" />
<line x1="579.11" y1="233.80" x2="579.11" y2="272.40" stroke="#555" stroke-width="0.7" />
<line x1="578.16" y1="234.00" x2="578.16" y2="272.50" stroke="#1c1c1c" stroke-width="1.1666121441029893" stroke-dasharray="3.4 1.2"/>
<line x1="578.16" y1="265.80" x2="578.16" y2="272.80" stroke="#111" stroke-width="1.4358303312036793" />
<line x1="589.91" y1="233.80" x2="589.91" y2="272.40" stroke="#555" stroke-width="0.7" />
<line x1="591.59" y1="233.80" x2="591.59" y2="272.40" stroke="#555" stroke-width="0.7" />
<line x1="590.75" y1="234.00" x2="590.75" y2="272.50" stroke="#1c1c1c" stroke-width="1.105" stroke-dasharray="3.4 1.2"/>
<line x1="590.75" y1="265.80" x2="590.75" y2="272.80" stroke="#111" stroke-width="1.36" />
<line x1="601.39" y1="233.80" x2="601.39" y2="272.40" stroke="#555" stroke-width="0.7" />
<line x1="602.87" y1="233.80" x2="602.87" y2="272.40" stroke="#555" stroke-width="0.7" />
<line x1="602.13" y1="234.00" x2="602.13" y2="272.50" stroke="#1c1c1c" stroke-width="1.0493128322222494" stroke-dasharray="3.4 1.2"/>
<line x1="602.13" y1="265.80" x2="602.13" y2="272.80" stroke="#111" stroke-width="1.291461947350461" />
<line x1="611.31" y1="233.80" x2="611.31" y2="272.40" stroke="#555" stroke-width="0.7" />
<line x1="612.60" y1="233.80" x2="612.60" y2="272.40" stroke="#555" stroke-width="0.7" />
<line x1="611.95" y1="234.00" x2="611.95" y2="272.50" stroke="#1c1c1c" stroke-width="1.0012426671835983" stroke-dasharray="3.4 1.2"/>
<line x1="611.95" y1="265.80" x2="611.95" y2="272.80" stroke="#111" stroke-width="1.2322986673028904" />
<line x1="619.35" y1="233.80" x2="619.35" y2="272.40" stroke="#555" stroke-width="0.7" />
<line x1="620.50" y1="233.80" x2="620.50" y2="272.40" stroke="#555" stroke-width="0.7" />
<line x1="619.92" y1="234.00" x2="619.92" y2="272.50" stroke="#1c1c1c" stroke-width="0.9622500925240688" stroke-dasharray="3.4 1.2"/>
<line x1="619.92" y1="265.80" x2="619.92" y2="272.80" stroke="#111" stroke-width="1.1843078061834693" />
<line x1="625.27" y1="233.80" x2="625.27" y2="272.40" stroke="#555" stroke-width="0.7" />
<line x1="626.32" y1="233.80" x2="626.32" y2="272.40" stroke="#555" stroke-width="0.7" />
<line x1="625.79" y1="234.00" x2="625.79" y2="272.50" stroke="#1c1c1c" stroke-width="0.9335198778934957" stroke-dasharray="3.4 1.2"/>
<line x1="625.79" y1="265.80" x2="625.79" y2="272.80" stroke="#111" stroke-width="1.148947542022764" />
<line x1="628.90" y1="233.80" x2="628.90" y2="272.40" stroke="#555" stroke-width="0.7" />
<line x1="629.88" y1="233.80" x2="629.88" y2="272.40" stroke="#555" stroke-width="0.7" />
<line x1="629.39" y1="234.00" x2="629.39" y2="272.50" stroke="#1c1c1c" stroke-width="0.9159249763252388" stroke-dasharray="3.4 1.2"/>
<line x1="629.39" y1="265.80" x2="629.39" y2="272.80" stroke="#111" stroke-width="1.1272922785541402" />
<circle cx="470.20" cy="240.00" r="1.30" fill="#333" stroke="#222" stroke-width="0.6" />
<circle cx="631.60" cy="240.00" r="1.30" fill="#333" stroke="#222" stroke-width="0.6" />
<line x1="487.60" y1="273.20" x2="487.60" y2="289.50" stroke="#222" stroke-width="0.8" />
<circle cx="487.60" cy="274.95" r="1.75" fill="#1c1c1c" stroke="none" stroke-width="0" />
<circle cx="487.60" cy="278.85" r="1.75" fill="#1c1c1c" stroke="none" stroke-width="0" />
<circle cx="487.60" cy="282.75" r="1.75" fill="#1c1c1c" stroke="none" stroke-width="0" />
<circle cx="487.60" cy="286.65" r="1.75" fill="#1c1c1c" stroke="none" stroke-width="0" />
<line x1="491.10" y1="273.20" x2="491.10" y2="289.50" stroke="#222" stroke-width="0.8" />
<circle cx="491.10" cy="274.95" r="1.75" fill="#1c1c1c" stroke="none" stroke-width="0" />
<circle cx="491.10" cy="278.85" r="1.75" fill="#1c1c1c" stroke="none" stroke-width="0" />
<circle cx="491.10" cy="282.75" r="1.75" fill="#1c1c1c" stroke="none" stroke-width="0" />
<circle cx="491.10" cy="286.65" r="1.75" fill="#1c1c1c" stroke="none" stroke-width="0" />
<line x1="494.60" y1="273.20" x2="494.60" y2="289.50" stroke="#222" stroke-width="0.8" />
<circle cx="494.60" cy="274.95" r="1.75" fill="#1c1c1c" stroke="none" stroke-width="0" />
<circle cx="494.60" cy="278.85" r="1.75" fill="#1c1c1c" stroke="none" stroke-width="0" />
<circle cx="494.60" cy="282.75" r="1.75" fill="#1c1c1c" stroke="none" stroke-width="0" />
<circle cx="494.60" cy="286.65" r="1.75" fill="#1c1c1c" stroke="none" stroke-width="0" />
<line x1="498.10" y1="273.20" x2="498.10" y2="289.50" stroke="#222" stroke-width="0.8" />
<circle cx="498.10" cy="274.95" r="1.75" fill="#1c1c1c" stroke="none" stroke-width="0" />
<circle cx="498.10" cy="278.85" r="1.75" fill="#1c1c1c" stroke="none" stroke-width="0" />
<circle cx="498.10" cy="282.75" r="1.75" fill="#1c1c1c" stroke="none" stroke-width="0" />
<circle cx="498.10" cy="286.65" r="1.75" fill="#1c1c1c" stroke="none" stroke-width="0" />
<line x1="501.60" y1="273.20" x2="501.60" y2="289.50" stroke="#222" stroke-width="0.8" />
<circle cx="501.60" cy="274.95" r="1.75" fill="#1c1c1c" stroke="none" stroke-width="0" />
<circle cx="501.60" cy="278.85" r="1.75" fill="#1c1c1c" stroke="none" stroke-width="0" />
<circle cx="501.60" cy="282.75" r="1.75" fill="#1c1c1c" stroke="none" stroke-width="0" />
<circle cx="501.60" cy="286.65" r="1.75" fill="#1c1c1c" stroke="none" stroke-width="0" />
<line x1="488.50" y1="289.00" x2="488.50" y2="299.60" stroke="#222" stroke-width="0.8" />
<circle cx="488.50" cy="290.60" r="1.60" fill="#151515" stroke="none" stroke-width="0" />
<circle cx="488.50" cy="294.20" r="1.60" fill="#151515" stroke="none" stroke-width="0" />
<circle cx="488.50" cy="297.80" r="1.60" fill="#151515" stroke="none" stroke-width="0" />
<line x1="493.50" y1="289.00" x2="493.50" y2="299.60" stroke="#222" stroke-width="0.8" />
<circle cx="493.50" cy="290.60" r="1.60" fill="#151515" stroke="none" stroke-width="0" />
<circle cx="493.50" cy="294.20" r="1.60" fill="#151515" stroke="none" stroke-width="0" />
<circle cx="493.50" cy="297.80" r="1.60" fill="#151515" stroke="none" stroke-width="0" />
<line x1="500.20" y1="289.00" x2="500.20" y2="299.60" stroke="#222" stroke-width="0.8" />
<circle cx="500.20" cy="290.60" r="1.60" fill="#151515" stroke="none" stroke-width="0" />
<circle cx="500.20" cy="294.20" r="1.60" fill="#151515" stroke="none" stroke-width="0" />
<circle cx="500.20" cy="297.80" r="1.60" fill="#151515" stroke="none" stroke-width="0" />
<line x1="600.60" y1="273.20" x2="600.60" y2="289.50" stroke="#222" stroke-width="0.8" />
<circle cx="600.60" cy="274.95" r="1.75" fill="#1c1c1c" stroke="none" stroke-width="0" />
<circle cx="600.60" cy="278.85" r="1.75" fill="#1c1c1c" stroke="none" stroke-width="0" />
<circle cx="600.60" cy="282.75" r="1.75" fill="#1c1c1c" stroke="none" stroke-width="0" />
<circle cx="600.60" cy="286.65" r="1.75" fill="#1c1c1c" stroke="none" stroke-width="0" />
<line x1="603.85" y1="273.20" x2="603.85" y2="289.50" stroke="#222" stroke-width="0.8" />
<circle cx="603.85" cy="274.95" r="1.75" fill="#1c1c1c" stroke="none" stroke-width="0" />
<circle cx="603.85" cy="278.85" r="1.75" fill="#1c1c1c" stroke="none" stroke-width="0" />
<circle cx="603.85" cy="282.75" r="1.75" fill="#1c1c1c" stroke="none" stroke-width="0" />
<circle cx="603.85" cy="286.65" r="1.75" fill="#1c1c1c" stroke="none" stroke-width="0" />
<line x1="607.10" y1="273.20" x2="607.10" y2="289.50" stroke="#222" stroke-width="0.8" />
<circle cx="607.10" cy="274.95" r="1.75" fill="#1c1c1c" stroke="none" stroke-width="0" />
<circle cx="607.10" cy="278.85" r="1.75" fill="#1c1c1c" stroke="none" stroke-width="0" />
<circle cx="607.10" cy="282.75" r="1.75" fill="#1c1c1c" stroke="none" stroke-width="0" />
<circle cx="607.10" cy="286.65" r="1.75" fill="#1c1c1c" stroke="none" stroke-width="0" />
<line x1="610.35" y1="273.20" x2="610.35" y2="289.50" stroke="#222" stroke-width="0.8" />
<circle cx="610.35" cy="274.95" r="1.75" fill="#1c1c1c" stroke="none" stroke-width="0" />
<circle cx="610.35" cy="278.85" r="1.75" fill="#1c1c1c" stroke="none" stroke-width="0" />
<circle cx="610.35" cy="282.75" r="1.75" fill="#1c1c1c" stroke="none" stroke-width="0" />
<circle cx="610.35" cy="286.65" r="1.75" fill="#1c1c1c" stroke="none" stroke-width="0" />
<line x1="613.60" y1="273.20" x2="613.60" y2="289.50" stroke="#222" stroke-width="0.8" />
<circle cx="613.60" cy="274.95" r="1.75" fill="#1c1c1c" stroke="none" stroke-width="0" />
<circle cx="613.60" cy="278.85" r="1.75" fill="#1c1c1c" stroke="none" stroke-width="0" />
<circle cx="613.60" cy="282.75" r="1.75" fill="#1c1c1c" stroke="none" stroke-width="0" />
<circle cx="613.60" cy="286.65" r="1.75" fill="#1c1c1c" stroke="none" stroke-width="0" />
<line x1="601.50" y1="289.00" x2="601.50" y2="299.60" stroke="#222" stroke-width="0.8" />
<circle cx="601.50" cy="290.60" r="1.60" fill="#151515" stroke="none" stroke-width="0" />
<circle cx="601.50" cy="294.20" r="1.60" fill="#151515" stroke="none" stroke-width="0" />
<circle cx="601.50" cy="297.80" r="1.60" fill="#151515" stroke="none" stroke-width="0" />
<line x1="607.00" y1="289.00" x2="607.00" y2="299.60" stroke="#222" stroke-width="0.8" />
<circle cx="607.00" cy="290.60" r="1.60" fill="#151515" stroke="none" stroke-width="0" />
<circle cx="607.00" cy="294.20" r="1.60" fill="#151515" stroke="none" stroke-width="0" />
<circle cx="607.00" cy="297.80" r="1.60" fill="#151515" stroke="none" stroke-width="0" />
<line x1="613.00" y1="289.00" x2="613.00" y2="299.60" stroke="#222" stroke-width="0.8" />
<circle cx="613.00" cy="290.60" r="1.60" fill="#151515" stroke="none" stroke-width="0" />
<circle cx="613.00" cy="294.20" r="1.60" fill="#151515" stroke="none" stroke-width="0" />
<circle cx="613.00" cy="297.80" r="1.60" fill="#151515" stroke="none" stroke-width="0" />
<line x1="504.40" y1="273.20" x2="504.40" y2="304.50" stroke="#222" stroke-width="0.8" />
<circle cx="504.40" cy="274.95" r="1.75" fill="#141414" stroke="none" stroke-width="0" />
<circle cx="504.40" cy="278.85" r="1.75" fill="#141414" stroke="none" stroke-width="0" />
<circle cx="504.40" cy="282.75" r="1.75" fill="#141414" stroke="none" stroke-width="0" />
<circle cx="504.40" cy="286.65" r="1.75" fill="#141414" stroke="none" stroke-width="0" />
<circle cx="504.40" cy="290.55" r="1.75" fill="#141414" stroke="none" stroke-width="0" />
<circle cx="504.40" cy="294.45" r="1.75" fill="#141414" stroke="none" stroke-width="0" />
<circle cx="504.40" cy="298.35" r="1.75" fill="#141414" stroke="none" stroke-width="0" />
<circle cx="504.40" cy="302.25" r="1.75" fill="#141414" stroke="none" stroke-width="0" />
<line x1="507.20" y1="273.20" x2="507.20" y2="304.50" stroke="#222" stroke-width="0.8" />
<circle cx="507.20" cy="274.95" r="1.75" fill="#141414" stroke="none" stroke-width="0" />
<circle cx="507.20" cy="278.85" r="1.75" fill="#141414" stroke="none" stroke-width="0" />
<circle cx="507.20" cy="282.75" r="1.75" fill="#141414" stroke="none" stroke-width="0" />
<circle cx="507.20" cy="286.65" r="1.75" fill="#141414" stroke="none" stroke-width="0" />
<circle cx="507.20" cy="290.55" r="1.75" fill="#141414" stroke="none" stroke-width="0" />
<circle cx="507.20" cy="294.45" r="1.75" fill="#141414" stroke="none" stroke-width="0" />
<circle cx="507.20" cy="298.35" r="1.75" fill="#141414" stroke="none" stroke-width="0" />
<circle cx="507.20" cy="302.25" r="1.75" fill="#141414" stroke="none" stroke-width="0" />
<line x1="510.00" y1="273.20" x2="510.00" y2="304.50" stroke="#222" stroke-width="0.8" />
<circle cx="510.00" cy="274.95" r="1.75" fill="#141414" stroke="none" stroke-width="0" />
<circle cx="510.00" cy="278.85" r="1.75" fill="#141414" stroke="none" stroke-width="0" />
<circle cx="510.00" cy="282.75" r="1.75" fill="#141414" stroke="none" stroke-width="0" />
<circle cx="510.00" cy="286.65" r="1.75" fill="#141414" stroke="none" stroke-width="0" />
<circle cx="510.00" cy="290.55" r="1.75" fill="#141414" stroke="none" stroke-width="0" />
<circle cx="510.00" cy="294.45" r="1.75" fill="#141414" stroke="none" stroke-width="0" />
<circle cx="510.00" cy="298.35" r="1.75" fill="#141414" stroke="none" stroke-width="0" />
<circle cx="510.00" cy="302.25" r="1.75" fill="#141414" stroke="none" stroke-width="0" />
<line x1="512.80" y1="273.20" x2="512.80" y2="304.50" stroke="#222" stroke-width="0.8" />
<circle cx="512.80" cy="274.95" r="1.75" fill="#141414" stroke="none" stroke-width="0" />
<circle cx="512.80" cy="278.85" r="1.75" fill="#141414" stroke="none" stroke-width="0" />
<circle cx="512.80" cy="282.75" r="1.75" fill="#141414" stroke="none" stroke-width="0" />
<circle cx="512.80" cy="286.65" r="1.75" fill="#141414" stroke="none" stroke-width="0" />
<circle cx="512.80" cy="290.55" r="1.75" fill="#141414" stroke="none" stroke-width="0" />
<circle cx="512.80" cy="294.45" r="1.75" fill="#141414" stroke="none" stroke-width="0" />
<circle cx="512.80" cy="298.35" r="1.75" fill="#141414" stroke="none" stroke-width="0" />
<circle cx="512.80" cy="302.25" r="1.75" fill="#141414" stroke="none" stroke-width="0" />
<line x1="515.60" y1="273.20" x2="515.60" y2="304.50" stroke="#222" stroke-width="0.8" />
<circle cx="515.60" cy="274.95" r="1.75" fill="#141414" stroke="none" stroke-width="0" />
<circle cx="515.60" cy="278.85" r="1.75" fill="#141414" stroke="none" stroke-width="0" />
<circle cx="515.60" cy="282.75" r="1.75" fill="#141414" stroke="none" stroke-width="0" />
<circle cx="515.60" cy="286.65" r="1.75" fill="#141414" stroke="none" stroke-width="0" />
<circle cx="515.60" cy="290.55" r="1.75" fill="#141414" stroke="none" stroke-width="0" />
<circle cx="515.60" cy="294.45" r="1.75" fill="#141414" stroke="none" stroke-width="0" />
<circle cx="515.60" cy="298.35" r="1.75" fill="#141414" stroke="none" stroke-width="0" />
<circle cx="515.60" cy="302.25" r="1.75" fill="#141414" stroke="none" stroke-width="0" />
<line x1="518.40" y1="273.20" x2="518.40" y2="304.50" stroke="#222" stroke-width="0.8" />
<circle cx="518.40" cy="274.95" r="1.75" fill="#141414" stroke="none" stroke-width="0" />
<circle cx="518.40" cy="278.85" r="1.75" fill="#141414" stroke="none" stroke-width="0" />
<circle cx="518.40" cy="282.75" r="1.75" fill="#141414" stroke="none" stroke-width="0" />
<circle cx="518.40" cy="286.65" r="1.75" fill="#141414" stroke="none" stroke-width="0" />
<circle cx="518.40" cy="290.55" r="1.75" fill="#141414" stroke="none" stroke-width="0" />
<circle cx="518.40" cy="294.45" r="1.75" fill="#141414" stroke="none" stroke-width="0" />
<circle cx="518.40" cy="298.35" r="1.75" fill="#141414" stroke="none" stroke-width="0" />
<circle cx="518.40" cy="302.25" r="1.75" fill="#141414" stroke="none" stroke-width="0" />
<line x1="521.20" y1="273.20" x2="521.20" y2="304.50" stroke="#222" stroke-width="0.8" />
<circle cx="521.20" cy="274.95" r="1.75" fill="#141414" stroke="none" stroke-width="0" />
<circle cx="521.20" cy="278.85" r="1.75" fill="#141414" stroke="none" stroke-width="0" />
<circle cx="521.20" cy="282.75" r="1.75" fill="#141414" stroke="none" stroke-width="0" />
<circle cx="521.20" cy="286.65" r="1.75" fill="#141414" stroke="none" stroke-width="0" />
<circle cx="521.20" cy="290.55" r="1.75" fill="#141414" stroke="none" stroke-width="0" />
<circle cx="521.20" cy="294.45" r="1.75" fill="#141414" stroke="none" stroke-width="0" />
<circle cx="521.20" cy="298.35" r="1.75" fill="#141414" stroke="none" stroke-width="0" />
<circle cx="521.20" cy="302.25" r="1.75" fill="#141414" stroke="none" stroke-width="0" />
<line x1="579.40" y1="273.20" x2="579.40" y2="304.50" stroke="#222" stroke-width="0.8" />
<circle cx="579.40" cy="274.95" r="1.75" fill="#141414" stroke="none" stroke-width="0" />
<circle cx="579.40" cy="278.85" r="1.75" fill="#141414" stroke="none" stroke-width="0" />
<circle cx="579.40" cy="282.75" r="1.75" fill="#141414" stroke="none" stroke-width="0" />
<circle cx="579.40" cy="286.65" r="1.75" fill="#141414" stroke="none" stroke-width="0" />
<circle cx="579.40" cy="290.55" r="1.75" fill="#141414" stroke="none" stroke-width="0" />
<circle cx="579.40" cy="294.45" r="1.75" fill="#141414" stroke="none" stroke-width="0" />
<circle cx="579.40" cy="298.35" r="1.75" fill="#141414" stroke="none" stroke-width="0" />
<circle cx="579.40" cy="302.25" r="1.75" fill="#141414" stroke="none" stroke-width="0" />
<line x1="582.20" y1="273.20" x2="582.20" y2="304.50" stroke="#222" stroke-width="0.8" />
<circle cx="582.20" cy="274.95" r="1.75" fill="#141414" stroke="none" stroke-width="0" />
<circle cx="582.20" cy="278.85" r="1.75" fill="#141414" stroke="none" stroke-width="0" />
<circle cx="582.20" cy="282.75" r="1.75" fill="#141414" stroke="none" stroke-width="0" />
<circle cx="582.20" cy="286.65" r="1.75" fill="#141414" stroke="none" stroke-width="0" />
<circle cx="582.20" cy="290.55" r="1.75" fill="#141414" stroke="none" stroke-width="0" />
<circle cx="582.20" cy="294.45" r="1.75" fill="#141414" stroke="none" stroke-width="0" />
<circle cx="582.20" cy="298.35" r="1.75" fill="#141414" stroke="none" stroke-width="0" />
<circle cx="582.20" cy="302.25" r="1.75" fill="#141414" stroke="none" stroke-width="0" />
<line x1="585.00" y1="273.20" x2="585.00" y2="304.50" stroke="#222" stroke-width="0.8" />
<circle cx="585.00" cy="274.95" r="1.75" fill="#141414" stroke="none" stroke-width="0" />
<circle cx="585.00" cy="278.85" r="1.75" fill="#141414" stroke="none" stroke-width="0" />
<circle cx="585.00" cy="282.75" r="1.75" fill="#141414" stroke="none" stroke-width="0" />
<circle cx="585.00" cy="286.65" r="1.75" fill="#141414" stroke="none" stroke-width="0" />
<circle cx="585.00" cy="290.55" r="1.75" fill="#141414" stroke="none" stroke-width="0" />
<circle cx="585.00" cy="294.45" r="1.75" fill="#141414" stroke="none" stroke-width="0" />
<circle cx="585.00" cy="298.35" r="1.75" fill="#141414" stroke="none" stroke-width="0" />
<circle cx="585.00" cy="302.25" r="1.75" fill="#141414" stroke="none" stroke-width="0" />
<line x1="587.80" y1="273.20" x2="587.80" y2="304.50" stroke="#222" stroke-width="0.8" />
<circle cx="587.80" cy="274.95" r="1.75" fill="#141414" stroke="none" stroke-width="0" />
<circle cx="587.80" cy="278.85" r="1.75" fill="#141414" stroke="none" stroke-width="0" />
<circle cx="587.80" cy="282.75" r="1.75" fill="#141414" stroke="none" stroke-width="0" />
<circle cx="587.80" cy="286.65" r="1.75" fill="#141414" stroke="none" stroke-width="0" />
<circle cx="587.80" cy="290.55" r="1.75" fill="#141414" stroke="none" stroke-width="0" />
<circle cx="587.80" cy="294.45" r="1.75" fill="#141414" stroke="none" stroke-width="0" />
<circle cx="587.80" cy="298.35" r="1.75" fill="#141414" stroke="none" stroke-width="0" />
<circle cx="587.80" cy="302.25" r="1.75" fill="#141414" stroke="none" stroke-width="0" />
<line x1="590.60" y1="273.20" x2="590.60" y2="304.50" stroke="#222" stroke-width="0.8" />
<circle cx="590.60" cy="274.95" r="1.75" fill="#141414" stroke="none" stroke-width="0" />
<circle cx="590.60" cy="278.85" r="1.75" fill="#141414" stroke="none" stroke-width="0" />
<circle cx="590.60" cy="282.75" r="1.75" fill="#141414" stroke="none" stroke-width="0" />
<circle cx="590.60" cy="286.65" r="1.75" fill="#141414" stroke="none" stroke-width="0" />
<circle cx="590.60" cy="290.55" r="1.75" fill="#141414" stroke="none" stroke-width="0" />
<circle cx="590.60" cy="294.45" r="1.75" fill="#141414" stroke="none" stroke-width="0" />
<circle cx="590.60" cy="298.35" r="1.75" fill="#141414" stroke="none" stroke-width="0" />
<circle cx="590.60" cy="302.25" r="1.75" fill="#141414" stroke="none" stroke-width="0" />
<line x1="593.40" y1="273.20" x2="593.40" y2="304.50" stroke="#222" stroke-width="0.8" />
<circle cx="593.40" cy="274.95" r="1.75" fill="#141414" stroke="none" stroke-width="0" />
<circle cx="593.40" cy="278.85" r="1.75" fill="#141414" stroke="none" stroke-width="0" />
<circle cx="593.40" cy="282.75" r="1.75" fill="#141414" stroke="none" stroke-width="0" />
<circle cx="593.40" cy="286.65" r="1.75" fill="#141414" stroke="none" stroke-width="0" />
<circle cx="593.40" cy="290.55" r="1.75" fill="#141414" stroke="none" stroke-width="0" />
<circle cx="593.40" cy="294.45" r="1.75" fill="#141414" stroke="none" stroke-width="0" />
<circle cx="593.40" cy="298.35" r="1.75" fill="#141414" stroke="none" stroke-width="0" />
<circle cx="593.40" cy="302.25" r="1.75" fill="#141414" stroke="none" stroke-width="0" />
<line x1="596.20" y1="273.20" x2="596.20" y2="304.50" stroke="#222" stroke-width="0.8" />
<circle cx="596.20" cy="274.95" r="1.75" fill="#141414" stroke="none" stroke-width="0" />
<circle cx="596.20" cy="278.85" r="1.75" fill="#141414" stroke="none" stroke-width="0" />
<circle cx="596.20" cy="282.75" r="1.75" fill="#141414" stroke="none" stroke-width="0" />
<circle cx="596.20" cy="286.65" r="1.75" fill="#141414" stroke="none" stroke-width="0" />
<circle cx="596.20" cy="290.55" r="1.75" fill="#141414" stroke="none" stroke-width="0" />
<circle cx="596.20" cy="294.45" r="1.75" fill="#141414" stroke="none" stroke-width="0" />
<circle cx="596.20" cy="298.35" r="1.75" fill="#141414" stroke="none" stroke-width="0" />
<circle cx="596.20" cy="302.25" r="1.75" fill="#141414" stroke="none" stroke-width="0" />
<rect x="504.00" y="279.00" width="17.50" height="24.00" fill="#1e1e1e" stroke="none" stroke-width="0" opacity="0.55"/>
<rect x="579.00" y="279.00" width="19.00" height="24.00" fill="#1e1e1e" stroke="none" stroke-width="0" opacity="0.55"/>
<line x1="526.40" y1="273.20" x2="526.40" y2="304.60" stroke="#222" stroke-width="0.8" />
<circle cx="526.40" cy="275.10" r="1.90" fill="#151515" stroke="none" stroke-width="0" />
<circle cx="526.40" cy="279.98" r="1.90" fill="#151515" stroke="none" stroke-width="0" />
<circle cx="526.40" cy="284.86" r="1.90" fill="#151515" stroke="none" stroke-width="0" />
<circle cx="526.40" cy="289.74" r="1.90" fill="#151515" stroke="none" stroke-width="0" />
<circle cx="526.40" cy="294.62" r="1.90" fill="#151515" stroke="none" stroke-width="0" />
<circle cx="526.40" cy="299.50" r="1.90" fill="#151515" stroke="none" stroke-width="0" />
<line x1="531.46" y1="273.20" x2="531.46" y2="304.60" stroke="#222" stroke-width="0.8" />
<circle cx="531.46" cy="275.10" r="1.90" fill="#151515" stroke="none" stroke-width="0" />
<circle cx="531.46" cy="279.98" r="1.90" fill="#151515" stroke="none" stroke-width="0" />
<circle cx="531.46" cy="284.86" r="1.90" fill="#151515" stroke="none" stroke-width="0" />
<circle cx="531.46" cy="289.74" r="1.90" fill="#151515" stroke="none" stroke-width="0" />
<circle cx="531.46" cy="294.62" r="1.90" fill="#151515" stroke="none" stroke-width="0" />
<circle cx="531.46" cy="299.50" r="1.90" fill="#151515" stroke="none" stroke-width="0" />
<line x1="536.52" y1="273.20" x2="536.52" y2="304.60" stroke="#222" stroke-width="0.8" />
<circle cx="536.52" cy="275.10" r="1.90" fill="#151515" stroke="none" stroke-width="0" />
<circle cx="536.52" cy="279.98" r="1.90" fill="#151515" stroke="none" stroke-width="0" />
<circle cx="536.52" cy="284.86" r="1.90" fill="#151515" stroke="none" stroke-width="0" />
<circle cx="536.52" cy="289.74" r="1.90" fill="#151515" stroke="none" stroke-width="0" />
<circle cx="536.52" cy="294.62" r="1.90" fill="#151515" stroke="none" stroke-width="0" />
<circle cx="536.52" cy="299.50" r="1.90" fill="#151515" stroke="none" stroke-width="0" />
<line x1="541.58" y1="273.20" x2="541.58" y2="304.60" stroke="#222" stroke-width="0.8" />
<circle cx="541.58" cy="275.10" r="1.90" fill="#151515" stroke="none" stroke-width="0" />
<circle cx="541.58" cy="279.98" r="1.90" fill="#151515" stroke="none" stroke-width="0" />
<circle cx="541.58" cy="284.86" r="1.90" fill="#151515" stroke="none" stroke-width="0" />
<circle cx="541.58" cy="289.74" r="1.90" fill="#151515" stroke="none" stroke-width="0" />
<circle cx="541.58" cy="294.62" r="1.90" fill="#151515" stroke="none" stroke-width="0" />
<circle cx="541.58" cy="299.50" r="1.90" fill="#151515" stroke="none" stroke-width="0" />
<line x1="546.64" y1="273.20" x2="546.64" y2="304.60" stroke="#222" stroke-width="0.8" />
<circle cx="546.64" cy="275.10" r="1.90" fill="#151515" stroke="none" stroke-width="0" />
<circle cx="546.64" cy="279.98" r="1.90" fill="#151515" stroke="none" stroke-width="0" />
<circle cx="546.64" cy="284.86" r="1.90" fill="#151515" stroke="none" stroke-width="0" />
<circle cx="546.64" cy="289.74" r="1.90" fill="#151515" stroke="none" stroke-width="0" />
<circle cx="546.64" cy="294.62" r="1.90" fill="#151515" stroke="none" stroke-width="0" />
<circle cx="546.64" cy="299.50" r="1.90" fill="#151515" stroke="none" stroke-width="0" />
<line x1="551.70" y1="273.20" x2="551.70" y2="304.60" stroke="#222" stroke-width="0.8" />
<circle cx="551.70" cy="275.10" r="1.90" fill="#151515" stroke="none" stroke-width="0" />
<circle cx="551.70" cy="279.98" r="1.90" fill="#151515" stroke="none" stroke-width="0" />
<circle cx="551.70" cy="284.86" r="1.90" fill="#151515" stroke="none" stroke-width="0" />
<circle cx="551.70" cy="289.74" r="1.90" fill="#151515" stroke="none" stroke-width="0" />
<circle cx="551.70" cy="294.62" r="1.90" fill="#151515" stroke="none" stroke-width="0" />
<circle cx="551.70" cy="299.50" r="1.90" fill="#151515" stroke="none" stroke-width="0" />
<line x1="556.76" y1="273.20" x2="556.76" y2="304.60" stroke="#222" stroke-width="0.8" />
<circle cx="556.76" cy="275.10" r="1.90" fill="#151515" stroke="none" stroke-width="0" />
<circle cx="556.76" cy="279.98" r="1.90" fill="#151515" stroke="none" stroke-width="0" />
<circle cx="556.76" cy="284.86" r="1.90" fill="#151515" stroke="none" stroke-width="0" />
<circle cx="556.76" cy="289.74" r="1.90" fill="#151515" stroke="none" stroke-width="0" />
<circle cx="556.76" cy="294.62" r="1.90" fill="#151515" stroke="none" stroke-width="0" />
<circle cx="556.76" cy="299.50" r="1.90" fill="#151515" stroke="none" stroke-width="0" />
<line x1="561.82" y1="273.20" x2="561.82" y2="304.60" stroke="#222" stroke-width="0.8" />
<circle cx="561.82" cy="275.10" r="1.90" fill="#151515" stroke="none" stroke-width="0" />
<circle cx="561.82" cy="279.98" r="1.90" fill="#151515" stroke="none" stroke-width="0" />
<circle cx="561.82" cy="284.86" r="1.90" fill="#151515" stroke="none" stroke-width="0" />
<circle cx="561.82" cy="289.74" r="1.90" fill="#151515" stroke="none" stroke-width="0" />
<circle cx="561.82" cy="294.62" r="1.90" fill="#151515" stroke="none" stroke-width="0" />
<circle cx="561.82" cy="299.50" r="1.90" fill="#151515" stroke="none" stroke-width="0" />
<line x1="566.88" y1="273.20" x2="566.88" y2="304.60" stroke="#222" stroke-width="0.8" />
<circle cx="566.88" cy="275.10" r="1.90" fill="#151515" stroke="none" stroke-width="0" />
<circle cx="566.88" cy="279.98" r="1.90" fill="#151515" stroke="none" stroke-width="0" />
<circle cx="566.88" cy="284.86" r="1.90" fill="#151515" stroke="none" stroke-width="0" />
<circle cx="566.88" cy="289.74" r="1.90" fill="#151515" stroke="none" stroke-width="0" />
<circle cx="566.88" cy="294.62" r="1.90" fill="#151515" stroke="none" stroke-width="0" />
<circle cx="566.88" cy="299.50" r="1.90" fill="#151515" stroke="none" stroke-width="0" />
<line x1="571.94" y1="273.20" x2="571.94" y2="304.60" stroke="#222" stroke-width="0.8" />
<circle cx="571.94" cy="275.10" r="1.90" fill="#151515" stroke="none" stroke-width="0" />
<circle cx="571.94" cy="279.98" r="1.90" fill="#151515" stroke="none" stroke-width="0" />
<circle cx="571.94" cy="284.86" r="1.90" fill="#151515" stroke="none" stroke-width="0" />
<circle cx="571.94" cy="289.74" r="1.90" fill="#151515" stroke="none" stroke-width="0" />
<circle cx="571.94" cy="294.62" r="1.90" fill="#151515" stroke="none" stroke-width="0" />
<circle cx="571.94" cy="299.50" r="1.90" fill="#151515" stroke="none" stroke-width="0" />
<line x1="577.00" y1="273.20" x2="577.00" y2="304.60" stroke="#222" stroke-width="0.8" />
<circle cx="577.00" cy="275.10" r="1.90" fill="#151515" stroke="none" stroke-width="0" />
<circle cx="577.00" cy="279.98" r="1.90" fill="#151515" stroke="none" stroke-width="0" />
<circle cx="577.00" cy="284.86" r="1.90" fill="#151515" stroke="none" stroke-width="0" />
<circle cx="577.00" cy="289.74" r="1.90" fill="#151515" stroke="none" stroke-width="0" />
<circle cx="577.00" cy="294.62" r="1.90" fill="#151515" stroke="none" stroke-width="0" />
<circle cx="577.00" cy="299.50" r="1.90" fill="#151515" stroke="none" stroke-width="0" />
<line x1="505.40" y1="303.00" x2="505.40" y2="316.20" stroke="#222" stroke-width="0.8" />
<circle cx="505.40" cy="304.95" r="1.95" fill="#151515" stroke="none" stroke-width="0" />
<circle cx="505.40" cy="309.15" r="1.95" fill="#151515" stroke="none" stroke-width="0" />
<circle cx="505.40" cy="313.35" r="1.95" fill="#151515" stroke="none" stroke-width="0" />
<line x1="508.90" y1="303.00" x2="508.90" y2="316.20" stroke="#222" stroke-width="0.8" />
<circle cx="508.90" cy="304.95" r="1.95" fill="#151515" stroke="none" stroke-width="0" />
<circle cx="508.90" cy="309.15" r="1.95" fill="#151515" stroke="none" stroke-width="0" />
<circle cx="508.90" cy="313.35" r="1.95" fill="#151515" stroke="none" stroke-width="0" />
<line x1="511.60" y1="303.00" x2="511.60" y2="316.20" stroke="#222" stroke-width="0.8" />
<circle cx="511.60" cy="304.95" r="1.95" fill="#151515" stroke="none" stroke-width="0" />
<circle cx="511.60" cy="309.15" r="1.95" fill="#151515" stroke="none" stroke-width="0" />
<circle cx="511.60" cy="313.35" r="1.95" fill="#151515" stroke="none" stroke-width="0" />
<line x1="516.80" y1="303.00" x2="516.80" y2="316.20" stroke="#222" stroke-width="0.8" />
<circle cx="516.80" cy="304.95" r="1.95" fill="#151515" stroke="none" stroke-width="0" />
<circle cx="516.80" cy="309.15" r="1.95" fill="#151515" stroke="none" stroke-width="0" />
<circle cx="516.80" cy="313.35" r="1.95" fill="#151515" stroke="none" stroke-width="0" />
<line x1="526.40" y1="303.00" x2="526.40" y2="316.20" stroke="#222" stroke-width="0.8" />
<circle cx="526.40" cy="304.95" r="1.95" fill="#151515" stroke="none" stroke-width="0" />
<circle cx="526.40" cy="309.15" r="1.95" fill="#151515" stroke="none" stroke-width="0" />
<circle cx="526.40" cy="313.35" r="1.95" fill="#151515" stroke="none" stroke-width="0" />
<line x1="536.50" y1="303.00" x2="536.50" y2="316.20" stroke="#222" stroke-width="0.8" />
<circle cx="536.50" cy="304.95" r="1.95" fill="#151515" stroke="none" stroke-width="0" />
<circle cx="536.50" cy="309.15" r="1.95" fill="#151515" stroke="none" stroke-width="0" />
<circle cx="536.50" cy="313.35" r="1.95" fill="#151515" stroke="none" stroke-width="0" />
<line x1="547.40" y1="303.00" x2="547.40" y2="316.20" stroke="#222" stroke-width="0.8" />
<circle cx="547.40" cy="304.95" r="1.95" fill="#151515" stroke="none" stroke-width="0" />
<circle cx="547.40" cy="309.15" r="1.95" fill="#151515" stroke="none" stroke-width="0" />
<circle cx="547.40" cy="313.35" r="1.95" fill="#151515" stroke="none" stroke-width="0" />
<line x1="558.80" y1="303.00" x2="558.80" y2="316.20" stroke="#222" stroke-width="0.8" />
<circle cx="558.80" cy="304.95" r="1.95" fill="#151515" stroke="none" stroke-width="0" />
<circle cx="558.80" cy="309.15" r="1.95" fill="#151515" stroke="none" stroke-width="0" />
<circle cx="558.80" cy="313.35" r="1.95" fill="#151515" stroke="none" stroke-width="0" />
<line x1="569.30" y1="303.00" x2="569.30" y2="316.20" stroke="#222" stroke-width="0.8" />
<circle cx="569.30" cy="304.95" r="1.95" fill="#151515" stroke="none" stroke-width="0" />
<circle cx="569.30" cy="309.15" r="1.95" fill="#151515" stroke="none" stroke-width="0" />
<circle cx="569.30" cy="313.35" r="1.95" fill="#151515" stroke="none" stroke-width="0" />
<line x1="579.80" y1="303.00" x2="579.80" y2="316.20" stroke="#222" stroke-width="0.8" />
<circle cx="579.80" cy="304.95" r="1.95" fill="#151515" stroke="none" stroke-width="0" />
<circle cx="579.80" cy="309.15" r="1.95" fill="#151515" stroke="none" stroke-width="0" />
<circle cx="579.80" cy="313.35" r="1.95" fill="#151515" stroke="none" stroke-width="0" />
<line x1="586.80" y1="303.00" x2="586.80" y2="316.20" stroke="#222" stroke-width="0.8" />
<circle cx="586.80" cy="304.95" r="1.95" fill="#151515" stroke="none" stroke-width="0" />
<circle cx="586.80" cy="309.15" r="1.95" fill="#151515" stroke="none" stroke-width="0" />
<circle cx="586.80" cy="313.35" r="1.95" fill="#151515" stroke="none" stroke-width="0" />
<line x1="592.00" y1="303.00" x2="592.00" y2="316.20" stroke="#222" stroke-width="0.8" />
<circle cx="592.00" cy="304.95" r="1.95" fill="#151515" stroke="none" stroke-width="0" />
<circle cx="592.00" cy="309.15" r="1.95" fill="#151515" stroke="none" stroke-width="0" />
<circle cx="592.00" cy="313.35" r="1.95" fill="#151515" stroke="none" stroke-width="0" />
<line x1="595.60" y1="303.00" x2="595.60" y2="316.20" stroke="#222" stroke-width="0.8" />
<circle cx="595.60" cy="304.95" r="1.95" fill="#151515" stroke="none" stroke-width="0" />
<circle cx="595.60" cy="309.15" r="1.95" fill="#151515" stroke="none" stroke-width="0" />
<circle cx="595.60" cy="313.35" r="1.95" fill="#151515" stroke="none" stroke-width="0" />
<line x1="469.20" y1="300.50" x2="469.20" y2="334.40" stroke="#5a5a5a" stroke-width="0.95" />
<line x1="632.00" y1="300.50" x2="632.00" y2="334.40" stroke="#5a5a5a" stroke-width="0.95" />
<line x1="469.20" y1="333.90" x2="632.00" y2="333.90" stroke="#5a5a5a" stroke-width="0.95" />
<text x="550.00" y="337.60" font-size="10.3" fill="#444" text-anchor="middle" textLength="42.6" lengthAdjust="spacingAndGlyphs">Ø620mm</text>
<line x1="580.50" y1="83.90" x2="670.20" y2="83.90" stroke="#3a3a3a" stroke-width="1.1" />
<line x1="669.20" y1="83.90" x2="669.20" y2="316.40" stroke="#3a3a3a" stroke-width="1.1" />
<line x1="576.00" y1="89.90" x2="586.00" y2="89.90" stroke="#3a3a3a" stroke-width="1.1" />
<line x1="585.30" y1="89.90" x2="585.30" y2="221.60" stroke="#3a3a3a" stroke-width="1.1" />
<line x1="578.40" y1="221.50" x2="650.20" y2="221.50" stroke="#3a3a3a" stroke-width="1.1" />
<line x1="649.80" y1="221.50" x2="649.80" y2="316.40" stroke="#3a3a3a" stroke-width="1.1" />
<line x1="611.50" y1="316.30" x2="670.20" y2="316.30" stroke="#3a3a3a" stroke-width="1.1" />
<text x="574.30" y="160.10" font-size="10.4" fill="#444" text-anchor="start" textLength="22.6" lengthAdjust="spacingAndGlyphs">1200</text>
<text x="644.40" y="204.10" font-size="10.4" fill="#444" text-anchor="start" textLength="49" lengthAdjust="spacingAndGlyphs">H1585mm</text>
<text x="636.20" y="272.80" font-size="10.4" fill="#444" text-anchor="start" textLength="25.8" lengthAdjust="spacingAndGlyphs">H360</text>
</g>
</svg>
</body></html>
